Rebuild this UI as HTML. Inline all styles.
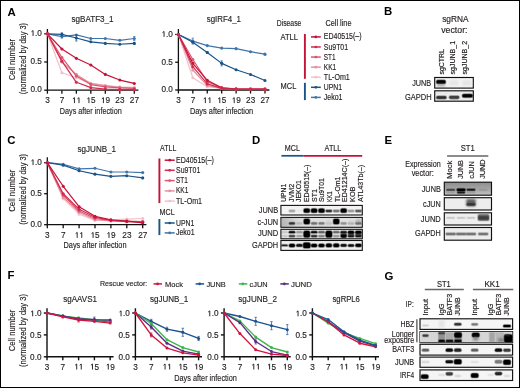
<!DOCTYPE html>
<html><head><meta charset="utf-8"><style>
html,body{margin:0;padding:0;background:#fff;}
body{width:520px;height:388px;overflow:hidden;font-family:"Liberation Sans", sans-serif;}
svg{display:block;will-change:transform;}
</style></head><body>
<svg width="520" height="388" viewBox="0 0 520 388" font-family='"Liberation Sans", sans-serif' fill="#231f20">
<defs><clipPath id="clipL"><rect x="420" y="331.6" width="92.6" height="11"/></clipPath><filter id="b1" x="-50%" y="-80%" width="200%" height="260%"><feGaussianBlur stdDeviation="0.8"/></filter><filter id="b2" x="-50%" y="-80%" width="200%" height="260%"><feGaussianBlur stdDeviation="1.0"/></filter><filter id="b3" x="-50%" y="-80%" width="200%" height="260%"><feGaussianBlur stdDeviation="1.4"/></filter><linearGradient id="gE" x1="0" y1="0" x2="0" y2="1"><stop offset="0" stop-color="#8e8e8e"/><stop offset="0.6" stop-color="#a8a8a8"/><stop offset="1" stop-color="#c4c4c4"/></linearGradient><linearGradient id="gDc" x1="0" y1="0" x2="1" y2="0"><stop offset="0" stop-color="#b8b8b8"/><stop offset="0.25" stop-color="#dcdcdc"/><stop offset="1" stop-color="#e4e4e4"/></linearGradient></defs>
<rect x="0.00" y="0.00" width="520.00" height="388.00" fill="#fff"/>
<text x="7.40" y="15.50" font-size="11.4" font-weight="bold" fill="#000">A</text>
<text x="384.00" y="15.40" font-size="11.4" font-weight="bold" fill="#000">B</text>
<text x="7.30" y="144.00" font-size="11.4" font-weight="bold" fill="#000">C</text>
<text x="252.00" y="144.00" font-size="11.4" font-weight="bold" fill="#000">D</text>
<text x="384.60" y="144.20" font-size="11.4" font-weight="bold" fill="#000">E</text>
<text x="7.60" y="279.30" font-size="11.4" font-weight="bold" fill="#000">F</text>
<text x="384.40" y="279.50" font-size="11.4" font-weight="bold" fill="#000">G</text>
<path d="M47.40 29.10V90.20H138.40" fill="none" stroke="#111" stroke-width="1.3"/>
<line x1="44.20" y1="90.20" x2="47.40" y2="90.20" stroke="#111" stroke-width="1.3"/>
<text x="30.50" y="92.40" font-size="8.2" stroke="#231f20" stroke-width="0.15">0</text><text x="35.06" y="92.40" font-size="8.2" stroke="#231f20" stroke-width="0.15">.</text><text x="37.34" y="92.40" font-size="8.2" stroke="#231f20" stroke-width="0.15">0</text>
<line x1="44.20" y1="62.00" x2="47.40" y2="62.00" stroke="#111" stroke-width="1.3"/>
<text x="30.50" y="64.20" font-size="8.2" stroke="#231f20" stroke-width="0.15">0</text><text x="35.06" y="64.20" font-size="8.2" stroke="#231f20" stroke-width="0.15">.</text><text x="37.34" y="64.20" font-size="8.2" stroke="#231f20" stroke-width="0.15">5</text>
<line x1="44.20" y1="33.80" x2="47.40" y2="33.80" stroke="#111" stroke-width="1.3"/>
<path d="M33.06 36.00V30.56L31.51 31.71" fill="none" stroke="#231f20" stroke-width="0.95" stroke-linejoin="round"/><text x="35.06" y="36.00" font-size="8.2" stroke="#231f20" stroke-width="0.15">.</text><text x="37.34" y="36.00" font-size="8.2" stroke="#231f20" stroke-width="0.15">0</text>
<line x1="47.40" y1="90.20" x2="47.40" y2="93.70" stroke="#111" stroke-width="1.3"/>
<text x="45.22" y="103.10" font-size="8.2" stroke="#231f20" stroke-width="0.15">3</text>
<line x1="61.88" y1="90.20" x2="61.88" y2="93.70" stroke="#111" stroke-width="1.3"/>
<text x="59.70" y="103.10" font-size="8.2" stroke="#231f20" stroke-width="0.15">7</text>
<line x1="76.36" y1="90.20" x2="76.36" y2="93.70" stroke="#111" stroke-width="1.3"/>
<path d="M74.45 103.10V97.66L72.90 98.81" fill="none" stroke="#231f20" stroke-width="0.95" stroke-linejoin="round"/><path d="M79.01 103.10V97.66L77.46 98.81" fill="none" stroke="#231f20" stroke-width="0.95" stroke-linejoin="round"/>
<line x1="90.84" y1="90.20" x2="90.84" y2="93.70" stroke="#111" stroke-width="1.3"/>
<path d="M88.93 103.10V97.66L87.38 98.81" fill="none" stroke="#231f20" stroke-width="0.95" stroke-linejoin="round"/><text x="90.94" y="103.10" font-size="8.2" stroke="#231f20" stroke-width="0.15">5</text>
<line x1="105.32" y1="90.20" x2="105.32" y2="93.70" stroke="#111" stroke-width="1.3"/>
<path d="M103.41 103.10V97.66L101.86 98.81" fill="none" stroke="#231f20" stroke-width="0.95" stroke-linejoin="round"/><text x="105.42" y="103.10" font-size="8.2" stroke="#231f20" stroke-width="0.15">9</text>
<line x1="119.80" y1="90.20" x2="119.80" y2="93.70" stroke="#111" stroke-width="1.3"/>
<text x="115.34" y="103.10" font-size="8.2" stroke="#231f20" stroke-width="0.15">2</text><text x="119.90" y="103.10" font-size="8.2" stroke="#231f20" stroke-width="0.15">3</text>
<line x1="134.28" y1="90.20" x2="134.28" y2="93.70" stroke="#111" stroke-width="1.3"/>
<text x="129.82" y="103.10" font-size="8.2" stroke="#231f20" stroke-width="0.15">2</text><text x="134.38" y="103.10" font-size="8.2" stroke="#231f20" stroke-width="0.15">7</text>
<polyline points="47.40,33.80 61.88,36.62 76.36,34.93 90.84,38.48 105.32,38.48 119.80,40.29 134.28,38.48" fill="none" stroke="#3f75ab" stroke-width="1.2" stroke-linejoin="round"/>
<circle cx="47.40" cy="33.80" r="1.55" fill="#3f75ab"/>
<circle cx="61.88" cy="36.62" r="1.55" fill="#3f75ab"/>
<path d="M61.88 35.12V38.12M60.68 35.12H63.08M60.68 38.12H63.08" stroke="#3f75ab" stroke-width="0.7" fill="none"/>
<circle cx="76.36" cy="34.93" r="1.55" fill="#3f75ab"/>
<circle cx="90.84" cy="38.48" r="1.55" fill="#3f75ab"/>
<circle cx="105.32" cy="38.48" r="1.55" fill="#3f75ab"/>
<circle cx="119.80" cy="40.29" r="1.55" fill="#3f75ab"/>
<circle cx="134.28" cy="38.48" r="1.55" fill="#3f75ab"/>
<path d="M134.28 36.48V40.48M133.08 36.48H135.48M133.08 40.48H135.48" stroke="#3f75ab" stroke-width="0.7" fill="none"/>
<polyline points="47.40,33.80 61.88,34.36 76.36,38.03 90.84,41.81 105.32,43.39 119.80,44.23 134.28,43.39" fill="none" stroke="#1a5389" stroke-width="1.2" stroke-linejoin="round"/>
<circle cx="47.40" cy="33.80" r="1.55" fill="#1a5389"/>
<circle cx="61.88" cy="34.36" r="1.55" fill="#1a5389"/>
<path d="M61.88 32.86V35.86M60.68 32.86H63.08M60.68 35.86H63.08" stroke="#1a5389" stroke-width="0.7" fill="none"/>
<circle cx="76.36" cy="38.03" r="1.55" fill="#1a5389"/>
<path d="M76.36 35.03V41.03M75.16 35.03H77.56M75.16 41.03H77.56" stroke="#1a5389" stroke-width="0.7" fill="none"/>
<circle cx="90.84" cy="41.81" r="1.55" fill="#1a5389"/>
<circle cx="105.32" cy="43.39" r="1.55" fill="#1a5389"/>
<circle cx="119.80" cy="44.23" r="1.55" fill="#1a5389"/>
<circle cx="134.28" cy="43.39" r="1.55" fill="#1a5389"/>
<path d="M134.28 42.39V44.39M133.08 42.39H135.48M133.08 44.39H135.48" stroke="#1a5389" stroke-width="0.7" fill="none"/>
<polyline points="47.40,33.80 61.88,72.72 76.36,77.79 90.84,83.43 105.32,85.69 119.80,86.82 134.28,87.38" fill="none" stroke="#f2c2cb" stroke-width="1.2" stroke-linejoin="round"/>
<circle cx="47.40" cy="33.80" r="1.55" fill="#f2c2cb"/>
<circle cx="61.88" cy="72.72" r="1.55" fill="#f2c2cb"/>
<circle cx="76.36" cy="77.79" r="1.55" fill="#f2c2cb"/>
<circle cx="90.84" cy="83.43" r="1.55" fill="#f2c2cb"/>
<circle cx="105.32" cy="85.69" r="1.55" fill="#f2c2cb"/>
<circle cx="119.80" cy="86.82" r="1.55" fill="#f2c2cb"/>
<circle cx="134.28" cy="87.38" r="1.55" fill="#f2c2cb"/>
<polyline points="47.40,33.80 61.88,62.00 76.36,74.41 90.84,83.43 105.32,85.69 119.80,87.38 134.28,87.94" fill="none" stroke="#e88fa0" stroke-width="1.2" stroke-linejoin="round"/>
<circle cx="47.40" cy="33.80" r="1.55" fill="#e88fa0"/>
<circle cx="61.88" cy="62.00" r="1.55" fill="#e88fa0"/>
<circle cx="76.36" cy="74.41" r="1.55" fill="#e88fa0"/>
<circle cx="90.84" cy="83.43" r="1.55" fill="#e88fa0"/>
<circle cx="105.32" cy="85.69" r="1.55" fill="#e88fa0"/>
<circle cx="119.80" cy="87.38" r="1.55" fill="#e88fa0"/>
<circle cx="134.28" cy="87.94" r="1.55" fill="#e88fa0"/>
<polyline points="47.40,33.80 61.88,57.49 76.36,76.10 90.84,84.56 105.32,86.82 119.80,87.94 134.28,88.51" fill="none" stroke="#dc5670" stroke-width="1.2" stroke-linejoin="round"/>
<circle cx="47.40" cy="33.80" r="1.55" fill="#dc5670"/>
<circle cx="61.88" cy="57.49" r="1.55" fill="#dc5670"/>
<circle cx="76.36" cy="76.10" r="1.55" fill="#dc5670"/>
<circle cx="90.84" cy="84.56" r="1.55" fill="#dc5670"/>
<circle cx="105.32" cy="86.82" r="1.55" fill="#dc5670"/>
<circle cx="119.80" cy="87.94" r="1.55" fill="#dc5670"/>
<circle cx="134.28" cy="88.51" r="1.55" fill="#dc5670"/>
<polyline points="47.40,33.80 61.88,49.03 76.36,58.33 90.84,65.05 105.32,74.41 119.80,80.05 134.28,83.43" fill="none" stroke="#c61237" stroke-width="1.2" stroke-linejoin="round"/>
<circle cx="47.40" cy="33.80" r="1.55" fill="#c61237"/>
<circle cx="61.88" cy="49.03" r="1.55" fill="#c61237"/>
<circle cx="76.36" cy="58.33" r="1.55" fill="#c61237"/>
<circle cx="90.84" cy="65.05" r="1.55" fill="#c61237"/>
<circle cx="105.32" cy="74.41" r="1.55" fill="#c61237"/>
<circle cx="119.80" cy="80.05" r="1.55" fill="#c61237"/>
<circle cx="134.28" cy="83.43" r="1.55" fill="#c61237"/>
<polyline points="47.40,33.80 61.88,61.15 76.36,82.30 90.84,87.66 105.32,89.07 119.80,89.64 134.28,89.64" fill="none" stroke="#d22b4c" stroke-width="1.2" stroke-linejoin="round"/>
<circle cx="47.40" cy="33.80" r="1.55" fill="#d22b4c"/>
<circle cx="61.88" cy="61.15" r="1.55" fill="#d22b4c"/>
<circle cx="76.36" cy="82.30" r="1.55" fill="#d22b4c"/>
<circle cx="90.84" cy="87.66" r="1.55" fill="#d22b4c"/>
<circle cx="105.32" cy="89.07" r="1.55" fill="#d22b4c"/>
<circle cx="119.80" cy="89.64" r="1.55" fill="#d22b4c"/>
<circle cx="134.28" cy="89.64" r="1.55" fill="#d22b4c"/>
<text x="71.50" y="22.40" font-size="8.4" stroke="#231f20" stroke-width="0.15" textLength="42.10" lengthAdjust="spacingAndGlyphs">sgBATF3_1</text>
<text x="59.80" y="114.00" font-size="9.4" stroke="#231f20" stroke-width="0.15" textLength="61.90" lengthAdjust="spacingAndGlyphs">Days after infection</text>
<text transform="translate(15.10,80.20) rotate(-90)" x="0.00" font-size="9.4" stroke="#231f20" stroke-width="0.15" textLength="41.20" lengthAdjust="spacingAndGlyphs">Cell number</text>
<text transform="translate(25.90,94.30) rotate(-90)" x="0.00" font-size="9.4" stroke="#231f20" stroke-width="0.15" textLength="71.40" lengthAdjust="spacingAndGlyphs">(normalized by day 3)</text>
<path d="M178.40 29.10V90.00H269.40" fill="none" stroke="#111" stroke-width="1.3"/>
<line x1="175.20" y1="90.00" x2="178.40" y2="90.00" stroke="#111" stroke-width="1.3"/>
<text x="161.50" y="92.40" font-size="8.2" stroke="#231f20" stroke-width="0.15">0</text><text x="166.06" y="92.40" font-size="8.2" stroke="#231f20" stroke-width="0.15">.</text><text x="168.34" y="92.40" font-size="8.2" stroke="#231f20" stroke-width="0.15">0</text>
<line x1="175.20" y1="62.25" x2="178.40" y2="62.25" stroke="#111" stroke-width="1.3"/>
<text x="161.50" y="64.65" font-size="8.2" stroke="#231f20" stroke-width="0.15">0</text><text x="166.06" y="64.65" font-size="8.2" stroke="#231f20" stroke-width="0.15">.</text><text x="168.34" y="64.65" font-size="8.2" stroke="#231f20" stroke-width="0.15">5</text>
<line x1="175.20" y1="34.50" x2="178.40" y2="34.50" stroke="#111" stroke-width="1.3"/>
<path d="M164.06 36.90V31.46L162.51 32.61" fill="none" stroke="#231f20" stroke-width="0.95" stroke-linejoin="round"/><text x="166.06" y="36.90" font-size="8.2" stroke="#231f20" stroke-width="0.15">.</text><text x="168.34" y="36.90" font-size="8.2" stroke="#231f20" stroke-width="0.15">0</text>
<line x1="178.40" y1="90.00" x2="178.40" y2="93.50" stroke="#111" stroke-width="1.3"/>
<text x="176.22" y="103.10" font-size="8.2" stroke="#231f20" stroke-width="0.15">3</text>
<line x1="192.83" y1="90.00" x2="192.83" y2="93.50" stroke="#111" stroke-width="1.3"/>
<text x="190.65" y="103.10" font-size="8.2" stroke="#231f20" stroke-width="0.15">7</text>
<line x1="207.26" y1="90.00" x2="207.26" y2="93.50" stroke="#111" stroke-width="1.3"/>
<path d="M205.35 103.10V97.66L203.80 98.81" fill="none" stroke="#231f20" stroke-width="0.95" stroke-linejoin="round"/><path d="M209.91 103.10V97.66L208.36 98.81" fill="none" stroke="#231f20" stroke-width="0.95" stroke-linejoin="round"/>
<line x1="221.69" y1="90.00" x2="221.69" y2="93.50" stroke="#111" stroke-width="1.3"/>
<path d="M219.78 103.10V97.66L218.23 98.81" fill="none" stroke="#231f20" stroke-width="0.95" stroke-linejoin="round"/><text x="221.79" y="103.10" font-size="8.2" stroke="#231f20" stroke-width="0.15">5</text>
<line x1="236.12" y1="90.00" x2="236.12" y2="93.50" stroke="#111" stroke-width="1.3"/>
<path d="M234.21 103.10V97.66L232.66 98.81" fill="none" stroke="#231f20" stroke-width="0.95" stroke-linejoin="round"/><text x="236.22" y="103.10" font-size="8.2" stroke="#231f20" stroke-width="0.15">9</text>
<line x1="250.55" y1="90.00" x2="250.55" y2="93.50" stroke="#111" stroke-width="1.3"/>
<text x="246.09" y="103.10" font-size="8.2" stroke="#231f20" stroke-width="0.15">2</text><text x="250.65" y="103.10" font-size="8.2" stroke="#231f20" stroke-width="0.15">3</text>
<line x1="264.98" y1="90.00" x2="264.98" y2="93.50" stroke="#111" stroke-width="1.3"/>
<text x="260.52" y="103.10" font-size="8.2" stroke="#231f20" stroke-width="0.15">2</text><text x="265.08" y="103.10" font-size="8.2" stroke="#231f20" stroke-width="0.15">7</text>
<polyline points="178.40,34.50 192.83,41.16 207.26,45.60 221.69,48.10 236.12,48.65 250.55,51.71 264.98,54.20" fill="none" stroke="#3f75ab" stroke-width="1.2" stroke-linejoin="round"/>
<circle cx="178.40" cy="34.50" r="1.55" fill="#3f75ab"/>
<circle cx="192.83" cy="41.16" r="1.55" fill="#3f75ab"/>
<path d="M192.83 38.16V44.16M191.63 38.16H194.03M191.63 44.16H194.03" stroke="#3f75ab" stroke-width="0.7" fill="none"/>
<circle cx="207.26" cy="45.60" r="1.55" fill="#3f75ab"/>
<circle cx="221.69" cy="48.10" r="1.55" fill="#3f75ab"/>
<circle cx="236.12" cy="48.65" r="1.55" fill="#3f75ab"/>
<circle cx="250.55" cy="51.71" r="1.55" fill="#3f75ab"/>
<circle cx="264.98" cy="54.20" r="1.55" fill="#3f75ab"/>
<path d="M264.98 53.20V55.20M263.78 53.20H266.18M263.78 55.20H266.18" stroke="#3f75ab" stroke-width="0.7" fill="none"/>
<polyline points="178.40,34.50 192.83,42.27 207.26,52.54 221.69,63.36 236.12,69.74 250.55,74.46 264.98,80.56" fill="none" stroke="#1a5389" stroke-width="1.2" stroke-linejoin="round"/>
<circle cx="178.40" cy="34.50" r="1.55" fill="#1a5389"/>
<circle cx="192.83" cy="42.27" r="1.55" fill="#1a5389"/>
<circle cx="207.26" cy="52.54" r="1.55" fill="#1a5389"/>
<path d="M207.26 51.54V53.54M206.06 51.54H208.46M206.06 53.54H208.46" stroke="#1a5389" stroke-width="0.7" fill="none"/>
<circle cx="221.69" cy="63.36" r="1.55" fill="#1a5389"/>
<path d="M221.69 60.86V65.86M220.49 60.86H222.89M220.49 65.86H222.89" stroke="#1a5389" stroke-width="0.7" fill="none"/>
<circle cx="236.12" cy="69.74" r="1.55" fill="#1a5389"/>
<circle cx="250.55" cy="74.46" r="1.55" fill="#1a5389"/>
<circle cx="264.98" cy="80.56" r="1.55" fill="#1a5389"/>
<polyline points="178.40,34.50 192.83,77.79 207.26,86.67 221.69,88.33 236.12,88.89 250.55,88.89 264.98,88.89" fill="none" stroke="#f2c2cb" stroke-width="1.2" stroke-linejoin="round"/>
<circle cx="178.40" cy="34.50" r="1.55" fill="#f2c2cb"/>
<circle cx="192.83" cy="77.79" r="1.55" fill="#f2c2cb"/>
<circle cx="207.26" cy="86.67" r="1.55" fill="#f2c2cb"/>
<circle cx="221.69" cy="88.33" r="1.55" fill="#f2c2cb"/>
<circle cx="236.12" cy="88.89" r="1.55" fill="#f2c2cb"/>
<circle cx="250.55" cy="88.89" r="1.55" fill="#f2c2cb"/>
<circle cx="264.98" cy="88.89" r="1.55" fill="#f2c2cb"/>
<polyline points="178.40,34.50 192.83,70.02 207.26,85.56 221.69,88.33 236.12,88.89 250.55,88.89 264.98,88.89" fill="none" stroke="#e88fa0" stroke-width="1.2" stroke-linejoin="round"/>
<circle cx="178.40" cy="34.50" r="1.55" fill="#e88fa0"/>
<circle cx="192.83" cy="70.02" r="1.55" fill="#e88fa0"/>
<circle cx="207.26" cy="85.56" r="1.55" fill="#e88fa0"/>
<circle cx="221.69" cy="88.33" r="1.55" fill="#e88fa0"/>
<circle cx="236.12" cy="88.89" r="1.55" fill="#e88fa0"/>
<circle cx="250.55" cy="88.89" r="1.55" fill="#e88fa0"/>
<circle cx="264.98" cy="88.89" r="1.55" fill="#e88fa0"/>
<polyline points="178.40,34.50 192.83,59.47 207.26,81.67 221.69,87.78 236.12,88.89 250.55,88.89 264.98,88.89" fill="none" stroke="#dc5670" stroke-width="1.2" stroke-linejoin="round"/>
<circle cx="178.40" cy="34.50" r="1.55" fill="#dc5670"/>
<circle cx="192.83" cy="59.47" r="1.55" fill="#dc5670"/>
<circle cx="207.26" cy="81.67" r="1.55" fill="#dc5670"/>
<circle cx="221.69" cy="87.78" r="1.55" fill="#dc5670"/>
<circle cx="236.12" cy="88.89" r="1.55" fill="#dc5670"/>
<circle cx="250.55" cy="88.89" r="1.55" fill="#dc5670"/>
<circle cx="264.98" cy="88.89" r="1.55" fill="#dc5670"/>
<polyline points="178.40,34.50 192.83,63.36 207.26,80.29 221.69,87.78 236.12,89.17 250.55,89.44 264.98,89.44" fill="none" stroke="#c61237" stroke-width="1.2" stroke-linejoin="round"/>
<circle cx="178.40" cy="34.50" r="1.55" fill="#c61237"/>
<circle cx="192.83" cy="63.36" r="1.55" fill="#c61237"/>
<circle cx="207.26" cy="80.29" r="1.55" fill="#c61237"/>
<circle cx="221.69" cy="87.78" r="1.55" fill="#c61237"/>
<circle cx="236.12" cy="89.17" r="1.55" fill="#c61237"/>
<circle cx="250.55" cy="89.44" r="1.55" fill="#c61237"/>
<circle cx="264.98" cy="89.44" r="1.55" fill="#c61237"/>
<polyline points="178.40,34.50 192.83,66.69 207.26,83.89 221.69,88.33 236.12,89.44 250.55,89.44 264.98,89.44" fill="none" stroke="#d22b4c" stroke-width="1.2" stroke-linejoin="round"/>
<circle cx="178.40" cy="34.50" r="1.55" fill="#d22b4c"/>
<circle cx="192.83" cy="66.69" r="1.55" fill="#d22b4c"/>
<circle cx="207.26" cy="83.89" r="1.55" fill="#d22b4c"/>
<circle cx="221.69" cy="88.33" r="1.55" fill="#d22b4c"/>
<circle cx="236.12" cy="89.44" r="1.55" fill="#d22b4c"/>
<circle cx="250.55" cy="89.44" r="1.55" fill="#d22b4c"/>
<circle cx="264.98" cy="89.44" r="1.55" fill="#d22b4c"/>
<text x="206.70" y="22.40" font-size="8.4" stroke="#231f20" stroke-width="0.15" textLength="34.30" lengthAdjust="spacingAndGlyphs">sgIRF4_1</text>
<text x="189.90" y="114.00" font-size="9.4" stroke="#231f20" stroke-width="0.15" textLength="63.30" lengthAdjust="spacingAndGlyphs">Days after infection</text>
<text x="276.70" y="26.10" font-size="8.4" stroke="#231f20" stroke-width="0.15" textLength="24.70" lengthAdjust="spacingAndGlyphs">Disease</text>
<text x="325.40" y="25.80" font-size="8.4" stroke="#231f20" stroke-width="0.15" textLength="26.10" lengthAdjust="spacingAndGlyphs">Cell line</text>
<text x="280.40" y="39.90" font-size="8.4" stroke="#231f20" stroke-width="0.15" textLength="17.60" lengthAdjust="spacingAndGlyphs">ATLL</text>
<text x="280.60" y="88.60" font-size="8.4" stroke="#231f20" stroke-width="0.15" textLength="15.70" lengthAdjust="spacingAndGlyphs">MCL</text>
<line x1="304.90" y1="34.00" x2="304.90" y2="78.80" stroke="#c61237" stroke-width="1.9"/>
<line x1="304.90" y1="82.80" x2="304.90" y2="100.10" stroke="#1a5389" stroke-width="1.9"/>
<line x1="311.00" y1="36.90" x2="320.80" y2="36.90" stroke="#c61237" stroke-width="1.5"/>
<circle cx="315.8" cy="36.90" r="1.35" fill="#c61237"/>
<text x="323.80" y="39.45" font-size="8.4" stroke="#231f20" stroke-width="0.15" textLength="37.80" lengthAdjust="spacingAndGlyphs">ED40515(–)</text>
<line x1="311.00" y1="46.98" x2="320.80" y2="46.98" stroke="#d22b4c" stroke-width="1.5"/>
<circle cx="315.8" cy="46.98" r="1.35" fill="#d22b4c"/>
<text x="323.80" y="49.53" font-size="8.4" stroke="#231f20" stroke-width="0.15" textLength="24.30" lengthAdjust="spacingAndGlyphs">Su9T01</text>
<line x1="311.00" y1="57.06" x2="320.80" y2="57.06" stroke="#dc5670" stroke-width="1.5"/>
<circle cx="315.8" cy="57.06" r="1.35" fill="#dc5670"/>
<text x="323.80" y="59.61" font-size="8.4" stroke="#231f20" stroke-width="0.15" textLength="11.80" lengthAdjust="spacingAndGlyphs">ST1</text>
<line x1="311.00" y1="67.14" x2="320.80" y2="67.14" stroke="#e88fa0" stroke-width="1.5"/>
<circle cx="315.8" cy="67.14" r="1.35" fill="#e88fa0"/>
<text x="323.80" y="69.69" font-size="8.4" stroke="#231f20" stroke-width="0.15" textLength="12.40" lengthAdjust="spacingAndGlyphs">KK1</text>
<line x1="311.00" y1="77.22" x2="320.80" y2="77.22" stroke="#f2c2cb" stroke-width="1.5"/>
<circle cx="315.8" cy="77.22" r="1.35" fill="#f2c2cb"/>
<text x="323.80" y="79.77" font-size="8.4" stroke="#231f20" stroke-width="0.15" textLength="26.00" lengthAdjust="spacingAndGlyphs">TL-Om1</text>
<line x1="311.00" y1="87.30" x2="320.80" y2="87.30" stroke="#1a5389" stroke-width="1.5"/>
<circle cx="315.8" cy="87.30" r="1.35" fill="#1a5389"/>
<text x="323.80" y="89.85" font-size="8.4" stroke="#231f20" stroke-width="0.15" textLength="18.30" lengthAdjust="spacingAndGlyphs">UPN1</text>
<line x1="311.00" y1="97.38" x2="320.80" y2="97.38" stroke="#3f75ab" stroke-width="1.5"/>
<circle cx="315.8" cy="97.38" r="1.35" fill="#3f75ab"/>
<text x="323.80" y="99.93" font-size="8.4" stroke="#231f20" stroke-width="0.15" textLength="18.60" lengthAdjust="spacingAndGlyphs">Jeko1</text>
<text x="442.20" y="22.00" font-size="8.6" stroke="#231f20" stroke-width="0.15" textLength="26.40" lengthAdjust="spacingAndGlyphs">sgRNA</text>
<text x="441.20" y="32.60" font-size="8.6" stroke="#231f20" stroke-width="0.15" textLength="26.30" lengthAdjust="spacingAndGlyphs">vector:</text>
<text transform="translate(443.90,74.50) rotate(-90)" x="0.00" font-size="7.8" stroke="#231f20" stroke-width="0.2" textLength="25.50" lengthAdjust="spacingAndGlyphs">sgCTRL</text>
<text transform="translate(455.10,74.50) rotate(-90)" x="0.00" font-size="7.8" stroke="#231f20" stroke-width="0.2" textLength="33.60" lengthAdjust="spacingAndGlyphs">sgJUNB_1</text>
<text transform="translate(467.40,74.50) rotate(-90)" x="0.00" font-size="7.8" stroke="#231f20" stroke-width="0.2" textLength="33.60" lengthAdjust="spacingAndGlyphs">sgJUNB_2</text>
<text x="412.20" y="85.50" font-size="8.3" stroke="#231f20" stroke-width="0.15" textLength="19.00" lengthAdjust="spacingAndGlyphs">JUNB</text>
<text x="405.00" y="100.00" font-size="8.3" stroke="#231f20" stroke-width="0.15" textLength="26.70" lengthAdjust="spacingAndGlyphs">GAPDH</text>
<rect x="434.70" y="77.50" width="38.60" height="10.60" fill="#f4f4f4" stroke="#111" stroke-width="1.15"/>
<g fill="#000" opacity="1"><rect x="435.50" y="79.30" width="11.00" height="5.20" rx="2.50" opacity="0.25"/><rect x="436.00" y="79.80" width="10.00" height="4.20" rx="2.00" opacity="0.45"/><rect x="436.50" y="80.30" width="9.00" height="3.20" rx="1.50" opacity="1.0"/></g>
<rect x="436.50" y="83.50" width="9.00" height="3.00" rx="1.50" fill="#555" opacity="0.45" filter="url(#b2)"/>
<rect x="449.25" y="80.00" width="9.50" height="6.00" rx="1.50" fill="#ddd" opacity="0.6" filter="url(#b2)"/>
<rect x="462.25" y="80.00" width="9.50" height="6.00" rx="1.50" fill="#ddd" opacity="0.6" filter="url(#b2)"/>
<rect x="434.70" y="90.80" width="38.60" height="10.40" fill="#eaeaea" stroke="#111" stroke-width="1.15"/>
<g fill="#1a1a1a" opacity="0.9"><rect x="435.60" y="95.15" width="11.60" height="4.70" rx="2.35" opacity="0.25"/><rect x="436.10" y="95.65" width="10.60" height="3.70" rx="1.85" opacity="0.45"/><rect x="436.60" y="96.15" width="9.60" height="2.70" rx="1.35" opacity="1.0"/></g>
<g fill="#222" opacity="0.85"><rect x="448.40" y="94.95" width="11.60" height="4.70" rx="2.35" opacity="0.25"/><rect x="448.90" y="95.45" width="10.60" height="3.70" rx="1.85" opacity="0.45"/><rect x="449.40" y="95.95" width="9.60" height="2.70" rx="1.35" opacity="1.0"/></g>
<g fill="#000" opacity="1"><rect x="461.40" y="93.30" width="12.00" height="5.00" rx="2.50" opacity="0.25"/><rect x="461.90" y="93.80" width="11.00" height="4.00" rx="2.00" opacity="0.45"/><rect x="462.40" y="94.30" width="10.00" height="3.00" rx="1.50" opacity="1.0"/></g>
<path d="M47.30 157.30V224.70H146.40" fill="none" stroke="#111" stroke-width="1.3"/>
<line x1="44.10" y1="224.70" x2="47.30" y2="224.70" stroke="#111" stroke-width="1.3"/>
<text x="30.50" y="227.10" font-size="8.2" stroke="#231f20" stroke-width="0.15">0</text><text x="35.06" y="227.10" font-size="8.2" stroke="#231f20" stroke-width="0.15">.</text><text x="37.34" y="227.10" font-size="8.2" stroke="#231f20" stroke-width="0.15">0</text>
<line x1="44.10" y1="193.70" x2="47.30" y2="193.70" stroke="#111" stroke-width="1.3"/>
<text x="30.50" y="196.10" font-size="8.2" stroke="#231f20" stroke-width="0.15">0</text><text x="35.06" y="196.10" font-size="8.2" stroke="#231f20" stroke-width="0.15">.</text><text x="37.34" y="196.10" font-size="8.2" stroke="#231f20" stroke-width="0.15">5</text>
<line x1="44.10" y1="162.70" x2="47.30" y2="162.70" stroke="#111" stroke-width="1.3"/>
<path d="M33.06 165.10V159.66L31.51 160.81" fill="none" stroke="#231f20" stroke-width="0.95" stroke-linejoin="round"/><text x="35.06" y="165.10" font-size="8.2" stroke="#231f20" stroke-width="0.15">.</text><text x="37.34" y="165.10" font-size="8.2" stroke="#231f20" stroke-width="0.15">0</text>
<line x1="47.30" y1="224.70" x2="47.30" y2="228.20" stroke="#111" stroke-width="1.3"/>
<text x="45.12" y="237.90" font-size="8.2" stroke="#231f20" stroke-width="0.15">3</text>
<line x1="63.20" y1="224.70" x2="63.20" y2="228.20" stroke="#111" stroke-width="1.3"/>
<text x="61.02" y="237.90" font-size="8.2" stroke="#231f20" stroke-width="0.15">7</text>
<line x1="79.10" y1="224.70" x2="79.10" y2="228.20" stroke="#111" stroke-width="1.3"/>
<path d="M77.19 237.90V232.46L75.64 233.61" fill="none" stroke="#231f20" stroke-width="0.95" stroke-linejoin="round"/><path d="M81.75 237.90V232.46L80.20 233.61" fill="none" stroke="#231f20" stroke-width="0.95" stroke-linejoin="round"/>
<line x1="95.00" y1="224.70" x2="95.00" y2="228.20" stroke="#111" stroke-width="1.3"/>
<path d="M93.09 237.90V232.46L91.54 233.61" fill="none" stroke="#231f20" stroke-width="0.95" stroke-linejoin="round"/><text x="95.10" y="237.90" font-size="8.2" stroke="#231f20" stroke-width="0.15">5</text>
<line x1="110.90" y1="224.70" x2="110.90" y2="228.20" stroke="#111" stroke-width="1.3"/>
<path d="M108.99 237.90V232.46L107.44 233.61" fill="none" stroke="#231f20" stroke-width="0.95" stroke-linejoin="round"/><text x="111.00" y="237.90" font-size="8.2" stroke="#231f20" stroke-width="0.15">9</text>
<line x1="126.80" y1="224.70" x2="126.80" y2="228.20" stroke="#111" stroke-width="1.3"/>
<text x="122.34" y="237.90" font-size="8.2" stroke="#231f20" stroke-width="0.15">2</text><text x="126.90" y="237.90" font-size="8.2" stroke="#231f20" stroke-width="0.15">3</text>
<line x1="142.70" y1="224.70" x2="142.70" y2="228.20" stroke="#111" stroke-width="1.3"/>
<text x="138.24" y="237.90" font-size="8.2" stroke="#231f20" stroke-width="0.15">2</text><text x="142.80" y="237.90" font-size="8.2" stroke="#231f20" stroke-width="0.15">7</text>
<polyline points="47.30,162.70 63.20,164.25 79.10,168.90 95.00,168.28 110.90,172.00 126.80,172.00 142.70,172.62" fill="none" stroke="#3f75ab" stroke-width="1.2" stroke-linejoin="round"/>
<circle cx="47.30" cy="162.70" r="1.55" fill="#3f75ab"/>
<circle cx="63.20" cy="164.25" r="1.55" fill="#3f75ab"/>
<circle cx="79.10" cy="168.90" r="1.55" fill="#3f75ab"/>
<circle cx="95.00" cy="168.28" r="1.55" fill="#3f75ab"/>
<circle cx="110.90" cy="172.00" r="1.55" fill="#3f75ab"/>
<circle cx="126.80" cy="172.00" r="1.55" fill="#3f75ab"/>
<circle cx="142.70" cy="172.62" r="1.55" fill="#3f75ab"/>
<polyline points="47.30,162.70 63.20,165.18 79.10,170.76 95.00,174.17 110.90,176.34 126.80,175.72 142.70,177.89" fill="none" stroke="#1a5389" stroke-width="1.2" stroke-linejoin="round"/>
<circle cx="47.30" cy="162.70" r="1.55" fill="#1a5389"/>
<circle cx="63.20" cy="165.18" r="1.55" fill="#1a5389"/>
<circle cx="79.10" cy="170.76" r="1.55" fill="#1a5389"/>
<circle cx="95.00" cy="174.17" r="1.55" fill="#1a5389"/>
<circle cx="110.90" cy="176.34" r="1.55" fill="#1a5389"/>
<circle cx="126.80" cy="175.72" r="1.55" fill="#1a5389"/>
<circle cx="142.70" cy="177.89" r="1.55" fill="#1a5389"/>
<polyline points="47.30,162.70 63.20,198.66 79.10,214.16 95.00,220.36 110.90,219.74 126.80,219.12 142.70,218.50" fill="none" stroke="#f2c2cb" stroke-width="1.2" stroke-linejoin="round"/>
<circle cx="47.30" cy="162.70" r="1.55" fill="#f2c2cb"/>
<circle cx="63.20" cy="198.66" r="1.55" fill="#f2c2cb"/>
<circle cx="79.10" cy="214.16" r="1.55" fill="#f2c2cb"/>
<circle cx="95.00" cy="220.36" r="1.55" fill="#f2c2cb"/>
<circle cx="110.90" cy="219.74" r="1.55" fill="#f2c2cb"/>
<circle cx="126.80" cy="219.12" r="1.55" fill="#f2c2cb"/>
<circle cx="142.70" cy="218.50" r="1.55" fill="#f2c2cb"/>
<polyline points="47.30,162.70 63.20,197.42 79.10,212.30 95.00,219.74 110.90,220.98 126.80,221.60 142.70,221.60" fill="none" stroke="#e88fa0" stroke-width="1.2" stroke-linejoin="round"/>
<circle cx="47.30" cy="162.70" r="1.55" fill="#e88fa0"/>
<circle cx="63.20" cy="197.42" r="1.55" fill="#e88fa0"/>
<circle cx="79.10" cy="212.30" r="1.55" fill="#e88fa0"/>
<circle cx="95.00" cy="219.74" r="1.55" fill="#e88fa0"/>
<circle cx="110.90" cy="220.98" r="1.55" fill="#e88fa0"/>
<circle cx="126.80" cy="221.60" r="1.55" fill="#e88fa0"/>
<circle cx="142.70" cy="221.60" r="1.55" fill="#e88fa0"/>
<polyline points="47.30,162.70 63.20,195.25 79.10,211.06 95.00,218.50 110.90,220.36 126.80,220.98 142.70,221.60" fill="none" stroke="#dc5670" stroke-width="1.2" stroke-linejoin="round"/>
<circle cx="47.30" cy="162.70" r="1.55" fill="#dc5670"/>
<circle cx="63.20" cy="195.25" r="1.55" fill="#dc5670"/>
<circle cx="79.10" cy="211.06" r="1.55" fill="#dc5670"/>
<circle cx="95.00" cy="218.50" r="1.55" fill="#dc5670"/>
<circle cx="110.90" cy="220.36" r="1.55" fill="#dc5670"/>
<circle cx="126.80" cy="220.98" r="1.55" fill="#dc5670"/>
<circle cx="142.70" cy="221.60" r="1.55" fill="#dc5670"/>
<polyline points="47.30,162.70 63.20,193.70 79.10,209.20 95.00,217.26 110.90,220.36 126.80,221.60 142.70,222.22" fill="none" stroke="#d22b4c" stroke-width="1.2" stroke-linejoin="round"/>
<circle cx="47.30" cy="162.70" r="1.55" fill="#d22b4c"/>
<circle cx="63.20" cy="193.70" r="1.55" fill="#d22b4c"/>
<circle cx="79.10" cy="209.20" r="1.55" fill="#d22b4c"/>
<circle cx="95.00" cy="217.26" r="1.55" fill="#d22b4c"/>
<circle cx="110.90" cy="220.36" r="1.55" fill="#d22b4c"/>
<circle cx="126.80" cy="221.60" r="1.55" fill="#d22b4c"/>
<circle cx="142.70" cy="222.22" r="1.55" fill="#d22b4c"/>
<polyline points="47.30,162.70 63.20,186.26 79.10,206.72 95.00,216.33 110.90,219.74 126.80,220.98 142.70,222.84" fill="none" stroke="#c61237" stroke-width="1.2" stroke-linejoin="round"/>
<circle cx="47.30" cy="162.70" r="1.55" fill="#c61237"/>
<circle cx="63.20" cy="186.26" r="1.55" fill="#c61237"/>
<circle cx="79.10" cy="206.72" r="1.55" fill="#c61237"/>
<circle cx="95.00" cy="216.33" r="1.55" fill="#c61237"/>
<circle cx="110.90" cy="219.74" r="1.55" fill="#c61237"/>
<circle cx="126.80" cy="220.98" r="1.55" fill="#c61237"/>
<circle cx="142.70" cy="222.84" r="1.55" fill="#c61237"/>
<text x="77.50" y="152.10" font-size="8.4" stroke="#231f20" stroke-width="0.15" textLength="38.60" lengthAdjust="spacingAndGlyphs">sgJUNB_1</text>
<text x="63.50" y="248.20" font-size="9.4" stroke="#231f20" stroke-width="0.15" textLength="63.00" lengthAdjust="spacingAndGlyphs">Days after infection</text>
<text transform="translate(15.10,211.80) rotate(-90)" x="0.00" font-size="9.4" stroke="#231f20" stroke-width="0.15" textLength="42.20" lengthAdjust="spacingAndGlyphs">Cell number</text>
<text transform="translate(25.90,224.80) rotate(-90)" x="0.00" font-size="9.4" stroke="#231f20" stroke-width="0.15" textLength="70.80" lengthAdjust="spacingAndGlyphs">(normalized by day 3)</text>
<text x="160.00" y="151.10" font-size="8.4" stroke="#231f20" stroke-width="0.15" textLength="16.30" lengthAdjust="spacingAndGlyphs">ATLL</text>
<text x="159.60" y="215.00" font-size="8.4" stroke="#231f20" stroke-width="0.15" textLength="15.10" lengthAdjust="spacingAndGlyphs">MCL</text>
<line x1="159.40" y1="158.50" x2="159.40" y2="203.10" stroke="#c61237" stroke-width="1.9"/>
<line x1="159.40" y1="219.00" x2="159.40" y2="235.10" stroke="#1a5389" stroke-width="1.9"/>
<line x1="164.70" y1="160.20" x2="174.70" y2="160.20" stroke="#c61237" stroke-width="1.5"/>
<circle cx="169.7" cy="160.20" r="1.35" fill="#c61237"/>
<text x="176.00" y="162.75" font-size="8.4" stroke="#231f20" stroke-width="0.15" textLength="37.80" lengthAdjust="spacingAndGlyphs">ED40515(–)</text>
<line x1="164.70" y1="170.30" x2="174.70" y2="170.30" stroke="#d22b4c" stroke-width="1.5"/>
<circle cx="169.7" cy="170.30" r="1.35" fill="#d22b4c"/>
<text x="176.00" y="172.85" font-size="8.4" stroke="#231f20" stroke-width="0.15" textLength="24.30" lengthAdjust="spacingAndGlyphs">Su9T01</text>
<line x1="164.70" y1="180.60" x2="174.70" y2="180.60" stroke="#dc5670" stroke-width="1.5"/>
<circle cx="169.7" cy="180.60" r="1.35" fill="#dc5670"/>
<text x="176.00" y="183.15" font-size="8.4" stroke="#231f20" stroke-width="0.15" textLength="11.80" lengthAdjust="spacingAndGlyphs">ST1</text>
<line x1="164.70" y1="190.90" x2="174.70" y2="190.90" stroke="#e88fa0" stroke-width="1.5"/>
<circle cx="169.7" cy="190.90" r="1.35" fill="#e88fa0"/>
<text x="176.00" y="193.45" font-size="8.4" stroke="#231f20" stroke-width="0.15" textLength="12.40" lengthAdjust="spacingAndGlyphs">KK1</text>
<line x1="164.70" y1="201.10" x2="174.70" y2="201.10" stroke="#f2c2cb" stroke-width="1.5"/>
<circle cx="169.7" cy="201.10" r="1.35" fill="#f2c2cb"/>
<text x="176.00" y="203.65" font-size="8.4" stroke="#231f20" stroke-width="0.15" textLength="26.00" lengthAdjust="spacingAndGlyphs">TL-Om1</text>
<line x1="164.70" y1="223.00" x2="174.70" y2="223.00" stroke="#1a5389" stroke-width="1.5"/>
<circle cx="169.7" cy="223.00" r="1.35" fill="#1a5389"/>
<text x="176.00" y="225.55" font-size="8.4" stroke="#231f20" stroke-width="0.15" textLength="18.30" lengthAdjust="spacingAndGlyphs">UPN1</text>
<line x1="164.70" y1="232.90" x2="174.70" y2="232.90" stroke="#3f75ab" stroke-width="1.5"/>
<circle cx="169.7" cy="232.90" r="1.35" fill="#3f75ab"/>
<text x="176.00" y="235.45" font-size="8.4" stroke="#231f20" stroke-width="0.15" textLength="18.60" lengthAdjust="spacingAndGlyphs">Jeko1</text>
<text x="284.80" y="150.60" font-size="8.4" stroke="#231f20" stroke-width="0.15" textLength="15.10" lengthAdjust="spacingAndGlyphs">MCL</text>
<text x="324.60" y="150.60" font-size="8.4" stroke="#231f20" stroke-width="0.15" textLength="16.80" lengthAdjust="spacingAndGlyphs">ATLL</text>
<line x1="281.40" y1="155.80" x2="303.70" y2="155.80" stroke="#1a5389" stroke-width="1.7"/>
<line x1="303.70" y1="155.80" x2="362.20" y2="155.80" stroke="#c61237" stroke-width="1.7"/>
<text transform="translate(286.00,202.00) rotate(-90)" x="0.00" font-size="7.9" stroke="#231f20" stroke-width="0.2" textLength="18.20" lengthAdjust="spacingAndGlyphs">UPN1</text>
<text transform="translate(293.66,202.00) rotate(-90)" x="0.00" font-size="7.9" stroke="#231f20" stroke-width="0.2" textLength="18.20" lengthAdjust="spacingAndGlyphs">JVM2</text>
<text transform="translate(301.32,202.00) rotate(-90)" x="0.00" font-size="7.9" stroke="#231f20" stroke-width="0.2" textLength="21.90" lengthAdjust="spacingAndGlyphs">JEKO1</text>
<text transform="translate(308.98,202.00) rotate(-90)" x="0.00" font-size="7.9" stroke="#231f20" stroke-width="0.2" textLength="37.30" lengthAdjust="spacingAndGlyphs">ED40515(–)</text>
<text transform="translate(316.64,202.00) rotate(-90)" x="0.00" font-size="7.9" stroke="#231f20" stroke-width="0.2" textLength="12.90" lengthAdjust="spacingAndGlyphs">ST1</text>
<text transform="translate(324.30,202.00) rotate(-90)" x="0.00" font-size="7.9" stroke="#231f20" stroke-width="0.2" textLength="23.80" lengthAdjust="spacingAndGlyphs">Su9T01</text>
<text transform="translate(331.96,202.00) rotate(-90)" x="0.00" font-size="7.9" stroke="#231f20" stroke-width="0.2" textLength="10.50" lengthAdjust="spacingAndGlyphs">KK1</text>
<text transform="translate(339.62,202.00) rotate(-90)" x="0.00" font-size="7.9" stroke="#231f20" stroke-width="0.2" textLength="25.40" lengthAdjust="spacingAndGlyphs">TL-Om1</text>
<text transform="translate(347.28,202.00) rotate(-90)" x="0.00" font-size="7.9" stroke="#231f20" stroke-width="0.2" textLength="43.30" lengthAdjust="spacingAndGlyphs">ED41214C(–)</text>
<text transform="translate(354.94,202.00) rotate(-90)" x="0.00" font-size="7.9" stroke="#231f20" stroke-width="0.2" textLength="15.50" lengthAdjust="spacingAndGlyphs">KOB</text>
<text transform="translate(362.60,202.00) rotate(-90)" x="0.00" font-size="7.9" stroke="#231f20" stroke-width="0.2" textLength="37.10" lengthAdjust="spacingAndGlyphs">ATL43Tb(–)</text>
<text x="258.80" y="213.10" font-size="8.3" stroke="#231f20" stroke-width="0.15" textLength="19.40" lengthAdjust="spacingAndGlyphs">JUNB</text>
<text x="257.60" y="225.00" font-size="8.3" stroke="#231f20" stroke-width="0.15" textLength="20.60" lengthAdjust="spacingAndGlyphs">c-JUN</text>
<text x="258.00" y="236.40" font-size="8.3" stroke="#231f20" stroke-width="0.15" textLength="20.20" lengthAdjust="spacingAndGlyphs">JUND</text>
<text x="252.00" y="248.20" font-size="8.3" stroke="#231f20" stroke-width="0.15" textLength="26.20" lengthAdjust="spacingAndGlyphs">GAPDH</text>
<rect x="280.90" y="205.40" width="81.40" height="9.60" fill="#f3f3f3" stroke="#111" stroke-width="1.1"/>
<rect x="280.90" y="217.40" width="81.40" height="9.90" fill="url(#gDc)" stroke="#111" stroke-width="1.1"/>
<rect x="280.90" y="229.30" width="81.40" height="9.50" fill="#ececec" stroke="#111" stroke-width="1.1"/>
<rect x="280.90" y="240.50" width="81.40" height="9.90" fill="#efefef" stroke="#111" stroke-width="1.1"/>
<g fill="#000" opacity="0.3"><rect x="288.08" y="209.10" width="7.80" height="3.80" rx="1.90" opacity="0.25"/><rect x="288.58" y="209.60" width="6.80" height="2.80" rx="1.40" opacity="0.45"/><rect x="289.08" y="210.10" width="5.80" height="1.80" rx="0.90" opacity="1.0"/></g>
<g fill="#000" opacity="0.03"><rect x="295.46" y="209.10" width="7.80" height="3.80" rx="1.90" opacity="0.25"/><rect x="295.96" y="209.60" width="6.80" height="2.80" rx="1.40" opacity="0.45"/><rect x="296.46" y="210.10" width="5.80" height="1.80" rx="0.90" opacity="1.0"/></g>
<g fill="#000" opacity="1"><rect x="302.84" y="207.80" width="7.80" height="5.60" rx="2.50" opacity="0.25"/><rect x="303.34" y="208.30" width="6.80" height="4.60" rx="2.00" opacity="0.45"/><rect x="303.84" y="208.80" width="5.80" height="3.60" rx="1.50" opacity="1.0"/></g>
<g fill="#000" opacity="1"><rect x="310.22" y="207.80" width="7.80" height="5.60" rx="2.50" opacity="0.25"/><rect x="310.72" y="208.30" width="6.80" height="4.60" rx="2.00" opacity="0.45"/><rect x="311.22" y="208.80" width="5.80" height="3.60" rx="1.50" opacity="1.0"/></g>
<g fill="#000" opacity="1"><rect x="317.60" y="207.80" width="7.80" height="5.60" rx="2.50" opacity="0.25"/><rect x="318.10" y="208.30" width="6.80" height="4.60" rx="2.00" opacity="0.45"/><rect x="318.60" y="208.80" width="5.80" height="3.60" rx="1.50" opacity="1.0"/></g>
<g fill="#000" opacity="0.8"><rect x="324.98" y="209.10" width="7.80" height="3.80" rx="1.90" opacity="0.25"/><rect x="325.48" y="209.60" width="6.80" height="2.80" rx="1.40" opacity="0.45"/><rect x="325.98" y="210.10" width="5.80" height="1.80" rx="0.90" opacity="1.0"/></g>
<g fill="#000" opacity="0.5"><rect x="332.36" y="209.10" width="7.80" height="3.80" rx="1.90" opacity="0.25"/><rect x="332.86" y="209.60" width="6.80" height="2.80" rx="1.40" opacity="0.45"/><rect x="333.36" y="210.10" width="5.80" height="1.80" rx="0.90" opacity="1.0"/></g>
<g fill="#000" opacity="1"><rect x="339.74" y="207.80" width="7.80" height="5.60" rx="2.50" opacity="0.25"/><rect x="340.24" y="208.30" width="6.80" height="4.60" rx="2.00" opacity="0.45"/><rect x="340.74" y="208.80" width="5.80" height="3.60" rx="1.50" opacity="1.0"/></g>
<g fill="#000" opacity="0.35"><rect x="347.12" y="209.10" width="7.80" height="3.80" rx="1.90" opacity="0.25"/><rect x="347.62" y="209.60" width="6.80" height="2.80" rx="1.40" opacity="0.45"/><rect x="348.12" y="210.10" width="5.80" height="1.80" rx="0.90" opacity="1.0"/></g>
<g fill="#000" opacity="0.6"><rect x="354.50" y="209.10" width="7.80" height="3.80" rx="1.90" opacity="0.25"/><rect x="355.00" y="209.60" width="6.80" height="2.80" rx="1.40" opacity="0.45"/><rect x="355.50" y="210.10" width="5.80" height="1.80" rx="0.90" opacity="1.0"/></g>
<g fill="#000" opacity="0.03"><rect x="280.90" y="221.60" width="7.40" height="3.60" rx="1.80" opacity="0.25"/><rect x="281.40" y="222.10" width="6.40" height="2.60" rx="1.30" opacity="0.45"/><rect x="281.90" y="222.60" width="5.40" height="1.60" rx="0.80" opacity="1.0"/></g>
<g fill="#000" opacity="0.75"><rect x="288.28" y="221.60" width="7.40" height="3.60" rx="1.80" opacity="0.25"/><rect x="288.78" y="222.10" width="6.40" height="2.60" rx="1.30" opacity="0.45"/><rect x="289.28" y="222.60" width="5.40" height="1.60" rx="0.80" opacity="1.0"/></g>
<g fill="#000" opacity="0.15"><rect x="295.66" y="221.60" width="7.40" height="3.60" rx="1.80" opacity="0.25"/><rect x="296.16" y="222.10" width="6.40" height="2.60" rx="1.30" opacity="0.45"/><rect x="296.66" y="222.60" width="5.40" height="1.60" rx="0.80" opacity="1.0"/></g>
<g fill="#000" opacity="1"><rect x="302.94" y="217.90" width="7.60" height="7.00" rx="2.50" opacity="0.25"/><rect x="303.44" y="218.40" width="6.60" height="6.00" rx="2.00" opacity="0.45"/><rect x="303.94" y="218.90" width="5.60" height="5.00" rx="1.50" opacity="1.0"/></g>
<g fill="#000" opacity="0.5"><rect x="310.42" y="221.60" width="7.40" height="3.60" rx="1.80" opacity="0.25"/><rect x="310.92" y="222.10" width="6.40" height="2.60" rx="1.30" opacity="0.45"/><rect x="311.42" y="222.60" width="5.40" height="1.60" rx="0.80" opacity="1.0"/></g>
<g fill="#000" opacity="0.45"><rect x="317.80" y="221.60" width="7.40" height="3.60" rx="1.80" opacity="0.25"/><rect x="318.30" y="222.10" width="6.40" height="2.60" rx="1.30" opacity="0.45"/><rect x="318.80" y="222.60" width="5.40" height="1.60" rx="0.80" opacity="1.0"/></g>
<g fill="#000" opacity="0.15"><rect x="325.18" y="221.60" width="7.40" height="3.60" rx="1.80" opacity="0.25"/><rect x="325.68" y="222.10" width="6.40" height="2.60" rx="1.30" opacity="0.45"/><rect x="326.18" y="222.60" width="5.40" height="1.60" rx="0.80" opacity="1.0"/></g>
<g fill="#000" opacity="1"><rect x="332.46" y="217.90" width="7.60" height="7.00" rx="2.50" opacity="0.25"/><rect x="332.96" y="218.40" width="6.60" height="6.00" rx="2.00" opacity="0.45"/><rect x="333.46" y="218.90" width="5.60" height="5.00" rx="1.50" opacity="1.0"/></g>
<g fill="#000" opacity="0.35"><rect x="339.94" y="221.60" width="7.40" height="3.60" rx="1.80" opacity="0.25"/><rect x="340.44" y="222.10" width="6.40" height="2.60" rx="1.30" opacity="0.45"/><rect x="340.94" y="222.60" width="5.40" height="1.60" rx="0.80" opacity="1.0"/></g>
<g fill="#000" opacity="0.25"><rect x="347.32" y="221.60" width="7.40" height="3.60" rx="1.80" opacity="0.25"/><rect x="347.82" y="222.10" width="6.40" height="2.60" rx="1.30" opacity="0.45"/><rect x="348.32" y="222.60" width="5.40" height="1.60" rx="0.80" opacity="1.0"/></g>
<g fill="#000" opacity="0.55"><rect x="354.70" y="221.60" width="7.40" height="3.60" rx="1.80" opacity="0.25"/><rect x="355.20" y="222.10" width="6.40" height="2.60" rx="1.30" opacity="0.45"/><rect x="355.70" y="222.60" width="5.40" height="1.60" rx="0.80" opacity="1.0"/></g>
<rect x="281.10" y="218.80" width="5.00" height="7.00" rx="1.50" fill="#bbb" opacity="0.5" filter="url(#b2)"/>
<rect x="326.13" y="218.80" width="5.50" height="7.00" rx="1.50" fill="#ccc" opacity="0.5" filter="url(#b2)"/>
<rect x="348.27" y="219.00" width="5.50" height="5.00" rx="1.50" fill="#ccc" opacity="0.5" filter="url(#b2)"/>
<rect x="355.40" y="219.00" width="6.00" height="5.00" rx="1.50" fill="#888" opacity="0.5" filter="url(#b2)"/>
<g fill="#000" opacity="0.15"><rect x="280.70" y="230.30" width="7.80" height="3.80" rx="1.90" opacity="0.25"/><rect x="281.20" y="230.80" width="6.80" height="2.80" rx="1.40" opacity="0.45"/><rect x="281.70" y="231.30" width="5.80" height="1.80" rx="0.90" opacity="1.0"/></g>
<g fill="#000" opacity="0.15"><rect x="280.70" y="234.20" width="7.80" height="3.80" rx="1.90" opacity="0.25"/><rect x="281.20" y="234.70" width="6.80" height="2.80" rx="1.40" opacity="0.45"/><rect x="281.70" y="235.20" width="5.80" height="1.80" rx="0.90" opacity="1.0"/></g>
<g fill="#000" opacity="0.95"><rect x="288.08" y="230.30" width="7.80" height="3.80" rx="1.90" opacity="0.25"/><rect x="288.58" y="230.80" width="6.80" height="2.80" rx="1.40" opacity="0.45"/><rect x="289.08" y="231.30" width="5.80" height="1.80" rx="0.90" opacity="1.0"/></g>
<g fill="#000" opacity="0.7"><rect x="288.08" y="234.20" width="7.80" height="3.80" rx="1.90" opacity="0.25"/><rect x="288.58" y="234.70" width="6.80" height="2.80" rx="1.40" opacity="0.45"/><rect x="289.08" y="235.20" width="5.80" height="1.80" rx="0.90" opacity="1.0"/></g>
<g fill="#000" opacity="0.35"><rect x="295.46" y="230.30" width="7.80" height="3.80" rx="1.90" opacity="0.25"/><rect x="295.96" y="230.80" width="6.80" height="2.80" rx="1.40" opacity="0.45"/><rect x="296.46" y="231.30" width="5.80" height="1.80" rx="0.90" opacity="1.0"/></g>
<g fill="#000" opacity="0.3"><rect x="295.46" y="234.20" width="7.80" height="3.80" rx="1.90" opacity="0.25"/><rect x="295.96" y="234.70" width="6.80" height="2.80" rx="1.40" opacity="0.45"/><rect x="296.46" y="235.20" width="5.80" height="1.80" rx="0.90" opacity="1.0"/></g>
<g fill="#000" opacity="1"><rect x="302.74" y="230.10" width="8.00" height="8.20" rx="2.50" opacity="0.25"/><rect x="303.24" y="230.60" width="7.00" height="7.20" rx="2.00" opacity="0.45"/><rect x="303.74" y="231.10" width="6.00" height="6.20" rx="1.50" opacity="1.0"/></g>
<g fill="#000" opacity="0.95"><rect x="310.22" y="230.30" width="7.80" height="3.80" rx="1.90" opacity="0.25"/><rect x="310.72" y="230.80" width="6.80" height="2.80" rx="1.40" opacity="0.45"/><rect x="311.22" y="231.30" width="5.80" height="1.80" rx="0.90" opacity="1.0"/></g>
<g fill="#000" opacity="0.8"><rect x="310.22" y="234.20" width="7.80" height="3.80" rx="1.90" opacity="0.25"/><rect x="310.72" y="234.70" width="6.80" height="2.80" rx="1.40" opacity="0.45"/><rect x="311.22" y="235.20" width="5.80" height="1.80" rx="0.90" opacity="1.0"/></g>
<g fill="#000" opacity="0.6"><rect x="317.60" y="230.30" width="7.80" height="3.80" rx="1.90" opacity="0.25"/><rect x="318.10" y="230.80" width="6.80" height="2.80" rx="1.40" opacity="0.45"/><rect x="318.60" y="231.30" width="5.80" height="1.80" rx="0.90" opacity="1.0"/></g>
<g fill="#000" opacity="0.45"><rect x="317.60" y="234.20" width="7.80" height="3.80" rx="1.90" opacity="0.25"/><rect x="318.10" y="234.70" width="6.80" height="2.80" rx="1.40" opacity="0.45"/><rect x="318.60" y="235.20" width="5.80" height="1.80" rx="0.90" opacity="1.0"/></g>
<g fill="#000" opacity="1"><rect x="324.88" y="230.10" width="8.00" height="8.20" rx="2.50" opacity="0.25"/><rect x="325.38" y="230.60" width="7.00" height="7.20" rx="2.00" opacity="0.45"/><rect x="325.88" y="231.10" width="6.00" height="6.20" rx="1.50" opacity="1.0"/></g>
<g fill="#000" opacity="0.55"><rect x="332.36" y="230.30" width="7.80" height="3.80" rx="1.90" opacity="0.25"/><rect x="332.86" y="230.80" width="6.80" height="2.80" rx="1.40" opacity="0.45"/><rect x="333.36" y="231.30" width="5.80" height="1.80" rx="0.90" opacity="1.0"/></g>
<g fill="#000" opacity="0.35"><rect x="332.36" y="234.20" width="7.80" height="3.80" rx="1.90" opacity="0.25"/><rect x="332.86" y="234.70" width="6.80" height="2.80" rx="1.40" opacity="0.45"/><rect x="333.36" y="235.20" width="5.80" height="1.80" rx="0.90" opacity="1.0"/></g>
<g fill="#000" opacity="0.9"><rect x="339.74" y="230.30" width="7.80" height="3.80" rx="1.90" opacity="0.25"/><rect x="340.24" y="230.80" width="6.80" height="2.80" rx="1.40" opacity="0.45"/><rect x="340.74" y="231.30" width="5.80" height="1.80" rx="0.90" opacity="1.0"/></g>
<g fill="#000" opacity="1"><rect x="339.74" y="233.80" width="7.80" height="4.60" rx="2.30" opacity="0.25"/><rect x="340.24" y="234.30" width="6.80" height="3.60" rx="1.80" opacity="0.45"/><rect x="340.74" y="234.80" width="5.80" height="2.60" rx="1.30" opacity="1.0"/></g>
<g fill="#000" opacity="0.6"><rect x="339.94" y="232.50" width="7.40" height="3.40" rx="1.70" opacity="0.25"/><rect x="340.44" y="233.00" width="6.40" height="2.40" rx="1.20" opacity="0.45"/><rect x="340.94" y="233.50" width="5.40" height="1.40" rx="0.70" opacity="1.0"/></g>
<g fill="#000" opacity="1"><rect x="347.12" y="229.90" width="7.80" height="4.60" rx="2.30" opacity="0.25"/><rect x="347.62" y="230.40" width="6.80" height="3.60" rx="1.80" opacity="0.45"/><rect x="348.12" y="230.90" width="5.80" height="2.60" rx="1.30" opacity="1.0"/></g>
<g fill="#000" opacity="0.9"><rect x="347.12" y="234.20" width="7.80" height="3.80" rx="1.90" opacity="0.25"/><rect x="347.62" y="234.70" width="6.80" height="2.80" rx="1.40" opacity="0.45"/><rect x="348.12" y="235.20" width="5.80" height="1.80" rx="0.90" opacity="1.0"/></g>
<g fill="#000" opacity="0.6"><rect x="347.32" y="232.50" width="7.40" height="3.40" rx="1.70" opacity="0.25"/><rect x="347.82" y="233.00" width="6.40" height="2.40" rx="1.20" opacity="0.45"/><rect x="348.32" y="233.50" width="5.40" height="1.40" rx="0.70" opacity="1.0"/></g>
<g fill="#000" opacity="1"><rect x="354.50" y="229.90" width="7.80" height="4.60" rx="2.30" opacity="0.25"/><rect x="355.00" y="230.40" width="6.80" height="3.60" rx="1.80" opacity="0.45"/><rect x="355.50" y="230.90" width="5.80" height="2.60" rx="1.30" opacity="1.0"/></g>
<g fill="#000" opacity="0.9"><rect x="354.50" y="234.20" width="7.80" height="3.80" rx="1.90" opacity="0.25"/><rect x="355.00" y="234.70" width="6.80" height="2.80" rx="1.40" opacity="0.45"/><rect x="355.50" y="235.20" width="5.80" height="1.80" rx="0.90" opacity="1.0"/></g>
<g fill="#000" opacity="0.6"><rect x="354.70" y="232.50" width="7.40" height="3.40" rx="1.70" opacity="0.25"/><rect x="355.20" y="233.00" width="6.40" height="2.40" rx="1.20" opacity="0.45"/><rect x="355.70" y="233.50" width="5.40" height="1.40" rx="0.70" opacity="1.0"/></g>
<g fill="#000" opacity="0.85"><rect x="280.80" y="243.70" width="7.60" height="3.40" rx="1.70" opacity="0.25"/><rect x="281.30" y="244.20" width="6.60" height="2.40" rx="1.20" opacity="0.45"/><rect x="281.80" y="244.70" width="5.60" height="1.40" rx="0.70" opacity="1.0"/></g>
<g fill="#000" opacity="1"><rect x="288.18" y="242.90" width="7.60" height="5.00" rx="2.50" opacity="0.25"/><rect x="288.68" y="243.40" width="6.60" height="4.00" rx="2.00" opacity="0.45"/><rect x="289.18" y="243.90" width="5.60" height="3.00" rx="1.50" opacity="1.0"/></g>
<g fill="#000" opacity="0.95"><rect x="295.56" y="243.20" width="7.60" height="4.40" rx="2.20" opacity="0.25"/><rect x="296.06" y="243.70" width="6.60" height="3.40" rx="1.70" opacity="0.45"/><rect x="296.56" y="244.20" width="5.60" height="2.40" rx="1.20" opacity="1.0"/></g>
<g fill="#000" opacity="1"><rect x="302.34" y="241.70" width="8.80" height="7.40" rx="2.50" opacity="0.25"/><rect x="302.84" y="242.20" width="7.80" height="6.40" rx="2.00" opacity="0.45"/><rect x="303.34" y="242.70" width="6.80" height="5.40" rx="1.50" opacity="1.0"/></g>
<g fill="#000" opacity="1"><rect x="310.32" y="242.90" width="7.60" height="5.00" rx="2.50" opacity="0.25"/><rect x="310.82" y="243.40" width="6.60" height="4.00" rx="2.00" opacity="0.45"/><rect x="311.32" y="243.90" width="5.60" height="3.00" rx="1.50" opacity="1.0"/></g>
<g fill="#000" opacity="1"><rect x="317.70" y="242.90" width="7.60" height="5.00" rx="2.50" opacity="0.25"/><rect x="318.20" y="243.40" width="6.60" height="4.00" rx="2.00" opacity="0.45"/><rect x="318.70" y="243.90" width="5.60" height="3.00" rx="1.50" opacity="1.0"/></g>
<g fill="#000" opacity="1"><rect x="325.08" y="242.80" width="7.60" height="5.20" rx="2.50" opacity="0.25"/><rect x="325.58" y="243.30" width="6.60" height="4.20" rx="2.00" opacity="0.45"/><rect x="326.08" y="243.80" width="5.60" height="3.20" rx="1.50" opacity="1.0"/></g>
<g fill="#000" opacity="1"><rect x="332.46" y="242.80" width="7.60" height="5.20" rx="2.50" opacity="0.25"/><rect x="332.96" y="243.30" width="6.60" height="4.20" rx="2.00" opacity="0.45"/><rect x="333.46" y="243.80" width="5.60" height="3.20" rx="1.50" opacity="1.0"/></g>
<g fill="#000" opacity="0.95"><rect x="339.84" y="243.30" width="7.60" height="4.20" rx="2.10" opacity="0.25"/><rect x="340.34" y="243.80" width="6.60" height="3.20" rx="1.60" opacity="0.45"/><rect x="340.84" y="244.30" width="5.60" height="2.20" rx="1.10" opacity="1.0"/></g>
<g fill="#000" opacity="0.95"><rect x="347.22" y="243.40" width="7.60" height="4.00" rx="2.00" opacity="0.25"/><rect x="347.72" y="243.90" width="6.60" height="3.00" rx="1.50" opacity="0.45"/><rect x="348.22" y="244.40" width="5.60" height="2.00" rx="1.00" opacity="1.0"/></g>
<g fill="#000" opacity="1"><rect x="354.60" y="243.10" width="7.60" height="4.60" rx="2.30" opacity="0.25"/><rect x="355.10" y="243.60" width="6.60" height="3.60" rx="1.80" opacity="0.45"/><rect x="355.60" y="244.10" width="5.60" height="2.60" rx="1.30" opacity="1.0"/></g>
<text x="460.70" y="151.00" font-size="8.4" stroke="#231f20" stroke-width="0.15" textLength="14.00" lengthAdjust="spacingAndGlyphs">ST1</text>
<line x1="447.10" y1="156.10" x2="488.30" y2="156.10" stroke="#666" stroke-width="1.5"/>
<text x="405.20" y="166.70" font-size="8.2" stroke="#231f20" stroke-width="0.15" textLength="35.50" lengthAdjust="spacingAndGlyphs">Expression</text>
<text x="411.70" y="175.80" font-size="8.2" stroke="#231f20" stroke-width="0.15" textLength="22.00" lengthAdjust="spacingAndGlyphs">vector:</text>
<text transform="translate(451.60,178.80) rotate(-90)" x="0.00" font-size="7.9" stroke="#231f20" stroke-width="0.2" textLength="18.00" lengthAdjust="spacingAndGlyphs">Mock</text>
<text transform="translate(463.00,178.80) rotate(-90)" x="0.00" font-size="7.9" stroke="#231f20" stroke-width="0.2" textLength="18.70" lengthAdjust="spacingAndGlyphs">JUNB</text>
<text transform="translate(474.20,178.80) rotate(-90)" x="0.00" font-size="7.9" stroke="#231f20" stroke-width="0.2" textLength="17.50" lengthAdjust="spacingAndGlyphs">cJUN</text>
<text transform="translate(485.20,178.80) rotate(-90)" x="0.00" font-size="7.9" stroke="#231f20" stroke-width="0.2" textLength="19.40" lengthAdjust="spacingAndGlyphs">JUND</text>
<text x="421.70" y="191.60" font-size="8.4" stroke="#231f20" stroke-width="0.15" textLength="19.10" lengthAdjust="spacingAndGlyphs">JUNB</text>
<text x="423.00" y="206.60" font-size="8.4" stroke="#231f20" stroke-width="0.15" textLength="17.80" lengthAdjust="spacingAndGlyphs">cJUN</text>
<text x="420.80" y="221.60" font-size="8.4" stroke="#231f20" stroke-width="0.15" textLength="20.00" lengthAdjust="spacingAndGlyphs">JUND</text>
<text x="415.00" y="236.00" font-size="8.4" stroke="#231f20" stroke-width="0.15" textLength="25.80" lengthAdjust="spacingAndGlyphs">GAPDH</text>
<rect x="444.30" y="182.20" width="47.20" height="13.00" fill="url(#gE)" stroke="#111" stroke-width="1.15"/>
<rect x="444.30" y="197.70" width="47.20" height="12.30" fill="#ededed" stroke="#111" stroke-width="1.15"/>
<rect x="444.30" y="212.80" width="47.20" height="12.20" fill="#eeeeee" stroke="#111" stroke-width="1.15"/>
<rect x="444.30" y="227.50" width="47.20" height="12.70" fill="#ececec" stroke="#111" stroke-width="1.15"/>
<g fill="#222" opacity="0.8"><rect x="445.75" y="188.30" width="9.90" height="3.20" rx="1.60" opacity="0.25"/><rect x="446.25" y="188.80" width="8.90" height="2.20" rx="1.10" opacity="0.45"/><rect x="446.75" y="189.30" width="7.90" height="1.20" rx="0.60" opacity="1.0"/></g>
<g fill="#000" opacity="1"><rect x="455.90" y="187.70" width="10.40" height="4.20" rx="2.10" opacity="0.25"/><rect x="456.40" y="188.20" width="9.40" height="3.20" rx="1.60" opacity="0.45"/><rect x="456.90" y="188.70" width="8.40" height="2.20" rx="1.10" opacity="1.0"/></g>
<g fill="#000" opacity="0.85"><rect x="466.05" y="188.10" width="9.90" height="3.40" rx="1.70" opacity="0.25"/><rect x="466.55" y="188.60" width="8.90" height="2.40" rx="1.20" opacity="0.45"/><rect x="467.05" y="189.10" width="7.90" height="1.40" rx="0.70" opacity="1.0"/></g>
<g fill="#555" opacity="0.25"><rect x="478.50" y="188.50" width="9.40" height="2.80" rx="1.40" opacity="0.25"/><rect x="479.00" y="189.00" width="8.40" height="1.80" rx="0.90" opacity="0.45"/><rect x="479.50" y="189.50" width="7.40" height="0.80" rx="0.40" opacity="1.0"/></g>
<g fill="#000" opacity="0.85"><rect x="456.40" y="191.00" width="9.40" height="3.20" rx="1.60" opacity="0.25"/><rect x="456.90" y="191.50" width="8.40" height="2.20" rx="1.10" opacity="0.45"/><rect x="457.40" y="192.00" width="7.40" height="1.20" rx="0.60" opacity="1.0"/></g>
<g fill="#444" opacity="0.3"><rect x="446.00" y="191.40" width="9.40" height="2.40" rx="1.20" opacity="0.25"/><rect x="446.50" y="191.90" width="8.40" height="1.40" rx="0.70" opacity="0.45"/><rect x="447.00" y="192.40" width="7.40" height="0.40" rx="0.20" opacity="1.0"/></g>
<g fill="#444" opacity="0.3"><rect x="466.30" y="191.40" width="9.40" height="2.40" rx="1.20" opacity="0.25"/><rect x="466.80" y="191.90" width="8.40" height="1.40" rx="0.70" opacity="0.45"/><rect x="467.30" y="192.40" width="7.40" height="0.40" rx="0.20" opacity="1.0"/></g>
<rect x="466.20" y="198.90" width="9.60" height="7.40" rx="1.50" fill="#4a4a4a" opacity="0.85" filter="url(#b2)"/>
<g fill="#111" opacity="0.6"><rect x="465.80" y="202.40" width="10.40" height="4.00" rx="2.00" opacity="0.25"/><rect x="466.30" y="202.90" width="9.40" height="3.00" rx="1.50" opacity="0.45"/><rect x="466.80" y="203.40" width="8.40" height="2.00" rx="1.00" opacity="1.0"/></g>
<g fill="#555" opacity="0.85"><rect x="477.05" y="213.40" width="12.90" height="8.00" rx="2.50" opacity="0.25"/><rect x="477.55" y="213.90" width="11.90" height="7.00" rx="2.00" opacity="0.45"/><rect x="478.05" y="214.40" width="10.90" height="6.00" rx="1.50" opacity="1.0"/></g>
<g fill="#222" opacity="0.6"><rect x="477.55" y="215.40" width="11.90" height="4.80" rx="2.40" opacity="0.25"/><rect x="478.05" y="215.90" width="10.90" height="3.80" rx="1.90" opacity="0.45"/><rect x="478.55" y="216.40" width="9.90" height="2.80" rx="1.40" opacity="1.0"/></g>
<g fill="#888" opacity="0.45"><rect x="446.00" y="216.50" width="9.40" height="2.80" rx="1.40" opacity="0.25"/><rect x="446.50" y="217.00" width="8.40" height="1.80" rx="0.90" opacity="0.45"/><rect x="447.00" y="217.50" width="7.40" height="0.80" rx="0.40" opacity="1.0"/></g>
<g fill="#888" opacity="0.45"><rect x="456.40" y="216.50" width="9.40" height="2.80" rx="1.40" opacity="0.25"/><rect x="456.90" y="217.00" width="8.40" height="1.80" rx="0.90" opacity="0.45"/><rect x="457.40" y="217.50" width="7.40" height="0.80" rx="0.40" opacity="1.0"/></g>
<g fill="#888" opacity="0.45"><rect x="466.30" y="216.50" width="9.40" height="2.80" rx="1.40" opacity="0.25"/><rect x="466.80" y="217.00" width="8.40" height="1.80" rx="0.90" opacity="0.45"/><rect x="467.30" y="217.50" width="7.40" height="0.80" rx="0.40" opacity="1.0"/></g>
<g fill="#444" opacity="0.7"><rect x="445.00" y="232.10" width="11.40" height="3.80" rx="1.90" opacity="0.25"/><rect x="445.50" y="232.60" width="10.40" height="2.80" rx="1.40" opacity="0.45"/><rect x="446.00" y="233.10" width="9.40" height="1.80" rx="0.90" opacity="1.0"/></g>
<g fill="#444" opacity="0.7"><rect x="455.40" y="232.10" width="11.40" height="3.80" rx="1.90" opacity="0.25"/><rect x="455.90" y="232.60" width="10.40" height="2.80" rx="1.40" opacity="0.45"/><rect x="456.40" y="233.10" width="9.40" height="1.80" rx="0.90" opacity="1.0"/></g>
<g fill="#444" opacity="0.7"><rect x="465.30" y="232.10" width="11.40" height="3.80" rx="1.90" opacity="0.25"/><rect x="465.80" y="232.60" width="10.40" height="2.80" rx="1.40" opacity="0.45"/><rect x="466.30" y="233.10" width="9.40" height="1.80" rx="0.90" opacity="1.0"/></g>
<g fill="#444" opacity="0.7"><rect x="477.50" y="232.10" width="11.40" height="3.80" rx="1.90" opacity="0.25"/><rect x="478.00" y="232.60" width="10.40" height="2.80" rx="1.40" opacity="0.45"/><rect x="478.50" y="233.10" width="9.40" height="1.80" rx="0.90" opacity="1.0"/></g>
<text x="100.00" y="286.20" font-size="7.6" stroke="#231f20" stroke-width="0.15" textLength="47.30" lengthAdjust="spacingAndGlyphs">Rescue vector:</text>
<line x1="153.50" y1="283.90" x2="162.00" y2="283.90" stroke="#d3143e" stroke-width="1.5"/>
<circle cx="157.55" cy="283.9" r="1.35" fill="#d3143e"/>
<text x="165.00" y="286.70" font-size="7.8" stroke="#231f20" stroke-width="0.15" textLength="17.90" lengthAdjust="spacingAndGlyphs">Mock</text>
<line x1="195.60" y1="283.90" x2="204.10" y2="283.90" stroke="#1b5391" stroke-width="1.5"/>
<circle cx="199.65" cy="283.9" r="1.35" fill="#1b5391"/>
<text x="206.40" y="286.70" font-size="7.8" stroke="#231f20" stroke-width="0.15" textLength="19.40" lengthAdjust="spacingAndGlyphs">JUNB</text>
<line x1="238.80" y1="283.90" x2="247.30" y2="283.90" stroke="#3cb648" stroke-width="1.5"/>
<circle cx="242.85" cy="283.9" r="1.35" fill="#3cb648"/>
<text x="249.50" y="286.70" font-size="7.8" stroke="#231f20" stroke-width="0.15" textLength="18.10" lengthAdjust="spacingAndGlyphs">cJUN</text>
<line x1="280.30" y1="283.90" x2="288.80" y2="283.90" stroke="#5b2c83" stroke-width="1.5"/>
<circle cx="284.35" cy="283.9" r="1.35" fill="#5b2c83"/>
<text x="291.00" y="286.70" font-size="7.8" stroke="#231f20" stroke-width="0.15" textLength="21.00" lengthAdjust="spacingAndGlyphs">JUND</text>
<path d="M47.00 308.20V356.80H113.60" fill="none" stroke="#111" stroke-width="1.4"/>
<line x1="43.80" y1="356.80" x2="47.00" y2="356.80" stroke="#111" stroke-width="1.4"/>
<text x="30.10" y="360.10" font-size="8.2" stroke="#231f20" stroke-width="0.15">0</text><text x="34.66" y="360.10" font-size="8.2" stroke="#231f20" stroke-width="0.15">.</text><text x="36.94" y="360.10" font-size="8.2" stroke="#231f20" stroke-width="0.15">0</text>
<line x1="43.80" y1="334.90" x2="47.00" y2="334.90" stroke="#111" stroke-width="1.4"/>
<text x="30.10" y="338.20" font-size="8.2" stroke="#231f20" stroke-width="0.15">0</text><text x="34.66" y="338.20" font-size="8.2" stroke="#231f20" stroke-width="0.15">.</text><text x="36.94" y="338.20" font-size="8.2" stroke="#231f20" stroke-width="0.15">5</text>
<line x1="43.80" y1="313.00" x2="47.00" y2="313.00" stroke="#111" stroke-width="1.4"/>
<path d="M32.66 316.30V310.86L31.11 312.01" fill="none" stroke="#231f20" stroke-width="0.95" stroke-linejoin="round"/><text x="34.66" y="316.30" font-size="8.2" stroke="#231f20" stroke-width="0.15">.</text><text x="36.94" y="316.30" font-size="8.2" stroke="#231f20" stroke-width="0.15">0</text>
<line x1="47.00" y1="356.80" x2="47.00" y2="360.30" stroke="#111" stroke-width="1.4"/>
<text x="44.82" y="369.50" font-size="8.2" stroke="#231f20" stroke-width="0.15">3</text>
<line x1="62.80" y1="356.80" x2="62.80" y2="360.30" stroke="#111" stroke-width="1.4"/>
<text x="60.62" y="369.50" font-size="8.2" stroke="#231f20" stroke-width="0.15">7</text>
<line x1="78.60" y1="356.80" x2="78.60" y2="360.30" stroke="#111" stroke-width="1.4"/>
<path d="M76.69 369.50V364.06L75.14 365.21" fill="none" stroke="#231f20" stroke-width="0.95" stroke-linejoin="round"/><path d="M81.25 369.50V364.06L79.70 365.21" fill="none" stroke="#231f20" stroke-width="0.95" stroke-linejoin="round"/>
<line x1="94.40" y1="356.80" x2="94.40" y2="360.30" stroke="#111" stroke-width="1.4"/>
<path d="M92.49 369.50V364.06L90.94 365.21" fill="none" stroke="#231f20" stroke-width="0.95" stroke-linejoin="round"/><text x="94.50" y="369.50" font-size="8.2" stroke="#231f20" stroke-width="0.15">5</text>
<line x1="110.20" y1="356.80" x2="110.20" y2="360.30" stroke="#111" stroke-width="1.4"/>
<path d="M108.29 369.50V364.06L106.74 365.21" fill="none" stroke="#231f20" stroke-width="0.95" stroke-linejoin="round"/><text x="110.30" y="369.50" font-size="8.2" stroke="#231f20" stroke-width="0.15">9</text>
<polyline points="47.00,313.00 62.80,315.85 78.60,319.13 94.40,320.45 110.20,321.76" fill="none" stroke="#1b5391" stroke-width="1.35" stroke-linejoin="round"/>
<circle cx="47.00" cy="313.00" r="1.5" fill="#1b5391"/>
<circle cx="62.80" cy="315.85" r="1.5" fill="#1b5391"/>
<circle cx="78.60" cy="319.13" r="1.5" fill="#1b5391"/>
<circle cx="94.40" cy="320.45" r="1.5" fill="#1b5391"/>
<circle cx="110.20" cy="321.76" r="1.5" fill="#1b5391"/>
<polyline points="47.00,313.00 62.80,316.07 78.60,317.82 94.40,319.57 110.20,321.32" fill="none" stroke="#3cb648" stroke-width="1.35" stroke-linejoin="round"/>
<circle cx="47.00" cy="313.00" r="1.5" fill="#3cb648"/>
<circle cx="62.80" cy="316.07" r="1.5" fill="#3cb648"/>
<circle cx="78.60" cy="317.82" r="1.5" fill="#3cb648"/>
<circle cx="94.40" cy="319.57" r="1.5" fill="#3cb648"/>
<circle cx="110.20" cy="321.32" r="1.5" fill="#3cb648"/>
<polyline points="47.00,313.00 62.80,316.07 78.60,318.69 94.40,319.57 110.20,320.01" fill="none" stroke="#5b2c83" stroke-width="1.35" stroke-linejoin="round"/>
<circle cx="47.00" cy="313.00" r="1.5" fill="#5b2c83"/>
<circle cx="62.80" cy="316.07" r="1.5" fill="#5b2c83"/>
<circle cx="78.60" cy="318.69" r="1.5" fill="#5b2c83"/>
<circle cx="94.40" cy="319.57" r="1.5" fill="#5b2c83"/>
<path d="M94.40 317.07V322.07M93.20 317.07H95.60M93.20 322.07H95.60" stroke="#5b2c83" stroke-width="0.7" fill="none"/>
<circle cx="110.20" cy="320.01" r="1.5" fill="#5b2c83"/>
<polyline points="47.00,313.00 62.80,316.94 78.60,320.01 94.40,321.32 110.20,323.07" fill="none" stroke="#d3143e" stroke-width="1.35" stroke-linejoin="round"/>
<circle cx="47.00" cy="313.00" r="1.5" fill="#d3143e"/>
<circle cx="62.80" cy="316.94" r="1.5" fill="#d3143e"/>
<circle cx="78.60" cy="320.01" r="1.5" fill="#d3143e"/>
<path d="M78.60 318.01V322.01M77.40 318.01H79.80M77.40 322.01H79.80" stroke="#d3143e" stroke-width="0.7" fill="none"/>
<circle cx="94.40" cy="321.32" r="1.5" fill="#d3143e"/>
<circle cx="110.20" cy="323.07" r="1.5" fill="#d3143e"/>
<text x="63.30" y="302.30" font-size="8.4" stroke="#231f20" stroke-width="0.15" textLength="33.70" lengthAdjust="spacingAndGlyphs">sgAAVS1</text>
<path d="M135.40 308.20V356.80H202.00" fill="none" stroke="#111" stroke-width="1.4"/>
<line x1="132.20" y1="356.80" x2="135.40" y2="356.80" stroke="#111" stroke-width="1.4"/>
<text x="118.50" y="360.10" font-size="8.2" stroke="#231f20" stroke-width="0.15">0</text><text x="123.06" y="360.10" font-size="8.2" stroke="#231f20" stroke-width="0.15">.</text><text x="125.34" y="360.10" font-size="8.2" stroke="#231f20" stroke-width="0.15">0</text>
<line x1="132.20" y1="334.90" x2="135.40" y2="334.90" stroke="#111" stroke-width="1.4"/>
<text x="118.50" y="338.20" font-size="8.2" stroke="#231f20" stroke-width="0.15">0</text><text x="123.06" y="338.20" font-size="8.2" stroke="#231f20" stroke-width="0.15">.</text><text x="125.34" y="338.20" font-size="8.2" stroke="#231f20" stroke-width="0.15">5</text>
<line x1="132.20" y1="313.00" x2="135.40" y2="313.00" stroke="#111" stroke-width="1.4"/>
<path d="M121.06 316.30V310.86L119.51 312.01" fill="none" stroke="#231f20" stroke-width="0.95" stroke-linejoin="round"/><text x="123.06" y="316.30" font-size="8.2" stroke="#231f20" stroke-width="0.15">.</text><text x="125.34" y="316.30" font-size="8.2" stroke="#231f20" stroke-width="0.15">0</text>
<line x1="135.40" y1="356.80" x2="135.40" y2="360.30" stroke="#111" stroke-width="1.4"/>
<text x="133.22" y="369.50" font-size="8.2" stroke="#231f20" stroke-width="0.15">3</text>
<line x1="151.20" y1="356.80" x2="151.20" y2="360.30" stroke="#111" stroke-width="1.4"/>
<text x="149.02" y="369.50" font-size="8.2" stroke="#231f20" stroke-width="0.15">7</text>
<line x1="167.00" y1="356.80" x2="167.00" y2="360.30" stroke="#111" stroke-width="1.4"/>
<path d="M165.09 369.50V364.06L163.54 365.21" fill="none" stroke="#231f20" stroke-width="0.95" stroke-linejoin="round"/><path d="M169.65 369.50V364.06L168.10 365.21" fill="none" stroke="#231f20" stroke-width="0.95" stroke-linejoin="round"/>
<line x1="182.80" y1="356.80" x2="182.80" y2="360.30" stroke="#111" stroke-width="1.4"/>
<path d="M180.89 369.50V364.06L179.34 365.21" fill="none" stroke="#231f20" stroke-width="0.95" stroke-linejoin="round"/><text x="182.90" y="369.50" font-size="8.2" stroke="#231f20" stroke-width="0.15">5</text>
<line x1="198.60" y1="356.80" x2="198.60" y2="360.30" stroke="#111" stroke-width="1.4"/>
<path d="M196.69 369.50V364.06L195.14 365.21" fill="none" stroke="#231f20" stroke-width="0.95" stroke-linejoin="round"/><text x="198.70" y="369.50" font-size="8.2" stroke="#231f20" stroke-width="0.15">9</text>
<polyline points="135.40,313.00 151.20,321.32 167.00,329.21 182.80,332.27 198.60,338.40" fill="none" stroke="#1b5391" stroke-width="1.35" stroke-linejoin="round"/>
<circle cx="135.40" cy="313.00" r="1.5" fill="#1b5391"/>
<circle cx="151.20" cy="321.32" r="1.5" fill="#1b5391"/>
<path d="M151.20 319.32V323.32M150.00 319.32H152.40M150.00 323.32H152.40" stroke="#1b5391" stroke-width="0.7" fill="none"/>
<circle cx="167.00" cy="329.21" r="1.5" fill="#1b5391"/>
<path d="M167.00 327.21V331.21M165.80 327.21H168.20M165.80 331.21H168.20" stroke="#1b5391" stroke-width="0.7" fill="none"/>
<circle cx="182.80" cy="332.27" r="1.5" fill="#1b5391"/>
<path d="M182.80 328.27V336.27M181.60 328.27H184.00M181.60 336.27H184.00" stroke="#1b5391" stroke-width="0.7" fill="none"/>
<circle cx="198.60" cy="338.40" r="1.5" fill="#1b5391"/>
<path d="M198.60 336.40V340.40M197.40 336.40H199.80M197.40 340.40H199.80" stroke="#1b5391" stroke-width="0.7" fill="none"/>
<polyline points="135.40,313.00 151.20,323.51 167.00,339.72 182.80,347.60 198.60,351.98" fill="none" stroke="#3cb648" stroke-width="1.35" stroke-linejoin="round"/>
<circle cx="135.40" cy="313.00" r="1.5" fill="#3cb648"/>
<circle cx="151.20" cy="323.51" r="1.5" fill="#3cb648"/>
<circle cx="167.00" cy="339.72" r="1.5" fill="#3cb648"/>
<circle cx="182.80" cy="347.60" r="1.5" fill="#3cb648"/>
<circle cx="198.60" cy="351.98" r="1.5" fill="#3cb648"/>
<polyline points="135.40,313.00 151.20,327.02 167.00,343.22 182.80,351.11 198.60,354.17" fill="none" stroke="#5b2c83" stroke-width="1.35" stroke-linejoin="round"/>
<circle cx="135.40" cy="313.00" r="1.5" fill="#5b2c83"/>
<circle cx="151.20" cy="327.02" r="1.5" fill="#5b2c83"/>
<path d="M151.20 325.02V329.02M150.00 325.02H152.40M150.00 329.02H152.40" stroke="#5b2c83" stroke-width="0.7" fill="none"/>
<circle cx="167.00" cy="343.22" r="1.5" fill="#5b2c83"/>
<circle cx="182.80" cy="351.11" r="1.5" fill="#5b2c83"/>
<circle cx="198.60" cy="354.17" r="1.5" fill="#5b2c83"/>
<polyline points="135.40,313.00 151.20,334.90 167.00,348.04 182.80,352.86 198.60,355.05" fill="none" stroke="#d3143e" stroke-width="1.35" stroke-linejoin="round"/>
<circle cx="135.40" cy="313.00" r="1.5" fill="#d3143e"/>
<circle cx="151.20" cy="334.90" r="1.5" fill="#d3143e"/>
<path d="M151.20 332.90V336.90M150.00 332.90H152.40M150.00 336.90H152.40" stroke="#d3143e" stroke-width="0.7" fill="none"/>
<circle cx="167.00" cy="348.04" r="1.5" fill="#d3143e"/>
<circle cx="182.80" cy="352.86" r="1.5" fill="#d3143e"/>
<circle cx="198.60" cy="355.05" r="1.5" fill="#d3143e"/>
<text x="150.00" y="302.30" font-size="8.4" stroke="#231f20" stroke-width="0.15" textLength="38.30" lengthAdjust="spacingAndGlyphs">sgJUNB_1</text>
<path d="M224.10 308.20V356.80H290.70" fill="none" stroke="#111" stroke-width="1.4"/>
<line x1="220.90" y1="356.80" x2="224.10" y2="356.80" stroke="#111" stroke-width="1.4"/>
<text x="207.20" y="360.10" font-size="8.2" stroke="#231f20" stroke-width="0.15">0</text><text x="211.76" y="360.10" font-size="8.2" stroke="#231f20" stroke-width="0.15">.</text><text x="214.04" y="360.10" font-size="8.2" stroke="#231f20" stroke-width="0.15">0</text>
<line x1="220.90" y1="334.90" x2="224.10" y2="334.90" stroke="#111" stroke-width="1.4"/>
<text x="207.20" y="338.20" font-size="8.2" stroke="#231f20" stroke-width="0.15">0</text><text x="211.76" y="338.20" font-size="8.2" stroke="#231f20" stroke-width="0.15">.</text><text x="214.04" y="338.20" font-size="8.2" stroke="#231f20" stroke-width="0.15">5</text>
<line x1="220.90" y1="313.00" x2="224.10" y2="313.00" stroke="#111" stroke-width="1.4"/>
<path d="M209.76 316.30V310.86L208.21 312.01" fill="none" stroke="#231f20" stroke-width="0.95" stroke-linejoin="round"/><text x="211.76" y="316.30" font-size="8.2" stroke="#231f20" stroke-width="0.15">.</text><text x="214.04" y="316.30" font-size="8.2" stroke="#231f20" stroke-width="0.15">0</text>
<line x1="224.10" y1="356.80" x2="224.10" y2="360.30" stroke="#111" stroke-width="1.4"/>
<text x="221.92" y="369.50" font-size="8.2" stroke="#231f20" stroke-width="0.15">3</text>
<line x1="239.90" y1="356.80" x2="239.90" y2="360.30" stroke="#111" stroke-width="1.4"/>
<text x="237.72" y="369.50" font-size="8.2" stroke="#231f20" stroke-width="0.15">7</text>
<line x1="255.70" y1="356.80" x2="255.70" y2="360.30" stroke="#111" stroke-width="1.4"/>
<path d="M253.79 369.50V364.06L252.24 365.21" fill="none" stroke="#231f20" stroke-width="0.95" stroke-linejoin="round"/><path d="M258.35 369.50V364.06L256.80 365.21" fill="none" stroke="#231f20" stroke-width="0.95" stroke-linejoin="round"/>
<line x1="271.50" y1="356.80" x2="271.50" y2="360.30" stroke="#111" stroke-width="1.4"/>
<path d="M269.59 369.50V364.06L268.04 365.21" fill="none" stroke="#231f20" stroke-width="0.95" stroke-linejoin="round"/><text x="271.60" y="369.50" font-size="8.2" stroke="#231f20" stroke-width="0.15">5</text>
<line x1="287.30" y1="356.80" x2="287.30" y2="360.30" stroke="#111" stroke-width="1.4"/>
<path d="M285.39 369.50V364.06L283.84 365.21" fill="none" stroke="#231f20" stroke-width="0.95" stroke-linejoin="round"/><text x="287.40" y="369.50" font-size="8.2" stroke="#231f20" stroke-width="0.15">9</text>
<polyline points="224.10,313.00 239.90,316.50 255.70,321.32 271.50,325.70 287.30,329.64" fill="none" stroke="#1b5391" stroke-width="1.35" stroke-linejoin="round"/>
<circle cx="224.10" cy="313.00" r="1.5" fill="#1b5391"/>
<circle cx="239.90" cy="316.50" r="1.5" fill="#1b5391"/>
<circle cx="255.70" cy="321.32" r="1.5" fill="#1b5391"/>
<path d="M255.70 317.32V325.32M254.50 317.32H256.90M254.50 325.32H256.90" stroke="#1b5391" stroke-width="0.7" fill="none"/>
<circle cx="271.50" cy="325.70" r="1.5" fill="#1b5391"/>
<path d="M271.50 321.70V329.70M270.30 321.70H272.70M270.30 329.70H272.70" stroke="#1b5391" stroke-width="0.7" fill="none"/>
<circle cx="287.30" cy="329.64" r="1.5" fill="#1b5391"/>
<path d="M287.30 324.64V334.64M286.10 324.64H288.50M286.10 334.64H288.50" stroke="#1b5391" stroke-width="0.7" fill="none"/>
<polyline points="224.10,313.00 239.90,320.88 255.70,337.09 271.50,347.60 287.30,351.98" fill="none" stroke="#3cb648" stroke-width="1.35" stroke-linejoin="round"/>
<circle cx="224.10" cy="313.00" r="1.5" fill="#3cb648"/>
<circle cx="239.90" cy="320.88" r="1.5" fill="#3cb648"/>
<circle cx="255.70" cy="337.09" r="1.5" fill="#3cb648"/>
<circle cx="271.50" cy="347.60" r="1.5" fill="#3cb648"/>
<circle cx="287.30" cy="351.98" r="1.5" fill="#3cb648"/>
<polyline points="224.10,313.00 239.90,322.64 255.70,341.47 271.50,351.54 287.30,355.05" fill="none" stroke="#5b2c83" stroke-width="1.35" stroke-linejoin="round"/>
<circle cx="224.10" cy="313.00" r="1.5" fill="#5b2c83"/>
<circle cx="239.90" cy="322.64" r="1.5" fill="#5b2c83"/>
<circle cx="255.70" cy="341.47" r="1.5" fill="#5b2c83"/>
<path d="M255.70 338.97V343.97M254.50 338.97H256.90M254.50 343.97H256.90" stroke="#5b2c83" stroke-width="0.7" fill="none"/>
<circle cx="271.50" cy="351.54" r="1.5" fill="#5b2c83"/>
<circle cx="287.30" cy="355.05" r="1.5" fill="#5b2c83"/>
<polyline points="224.10,313.00 239.90,333.59 255.70,349.79 271.50,354.17 287.30,355.49" fill="none" stroke="#d3143e" stroke-width="1.35" stroke-linejoin="round"/>
<circle cx="224.10" cy="313.00" r="1.5" fill="#d3143e"/>
<circle cx="239.90" cy="333.59" r="1.5" fill="#d3143e"/>
<circle cx="255.70" cy="349.79" r="1.5" fill="#d3143e"/>
<circle cx="271.50" cy="354.17" r="1.5" fill="#d3143e"/>
<circle cx="287.30" cy="355.49" r="1.5" fill="#d3143e"/>
<text x="238.30" y="302.30" font-size="8.4" stroke="#231f20" stroke-width="0.15" textLength="38.70" lengthAdjust="spacingAndGlyphs">sgJUNB_2</text>
<path d="M312.40 308.20V356.80H379.00" fill="none" stroke="#111" stroke-width="1.4"/>
<line x1="309.20" y1="356.80" x2="312.40" y2="356.80" stroke="#111" stroke-width="1.4"/>
<text x="295.50" y="360.10" font-size="8.2" stroke="#231f20" stroke-width="0.15">0</text><text x="300.06" y="360.10" font-size="8.2" stroke="#231f20" stroke-width="0.15">.</text><text x="302.34" y="360.10" font-size="8.2" stroke="#231f20" stroke-width="0.15">0</text>
<line x1="309.20" y1="334.90" x2="312.40" y2="334.90" stroke="#111" stroke-width="1.4"/>
<text x="295.50" y="338.20" font-size="8.2" stroke="#231f20" stroke-width="0.15">0</text><text x="300.06" y="338.20" font-size="8.2" stroke="#231f20" stroke-width="0.15">.</text><text x="302.34" y="338.20" font-size="8.2" stroke="#231f20" stroke-width="0.15">5</text>
<line x1="309.20" y1="313.00" x2="312.40" y2="313.00" stroke="#111" stroke-width="1.4"/>
<path d="M298.06 316.30V310.86L296.51 312.01" fill="none" stroke="#231f20" stroke-width="0.95" stroke-linejoin="round"/><text x="300.06" y="316.30" font-size="8.2" stroke="#231f20" stroke-width="0.15">.</text><text x="302.34" y="316.30" font-size="8.2" stroke="#231f20" stroke-width="0.15">0</text>
<line x1="312.40" y1="356.80" x2="312.40" y2="360.30" stroke="#111" stroke-width="1.4"/>
<text x="310.22" y="369.50" font-size="8.2" stroke="#231f20" stroke-width="0.15">3</text>
<line x1="328.20" y1="356.80" x2="328.20" y2="360.30" stroke="#111" stroke-width="1.4"/>
<text x="326.02" y="369.50" font-size="8.2" stroke="#231f20" stroke-width="0.15">7</text>
<line x1="344.00" y1="356.80" x2="344.00" y2="360.30" stroke="#111" stroke-width="1.4"/>
<path d="M342.09 369.50V364.06L340.54 365.21" fill="none" stroke="#231f20" stroke-width="0.95" stroke-linejoin="round"/><path d="M346.65 369.50V364.06L345.10 365.21" fill="none" stroke="#231f20" stroke-width="0.95" stroke-linejoin="round"/>
<line x1="359.80" y1="356.80" x2="359.80" y2="360.30" stroke="#111" stroke-width="1.4"/>
<path d="M357.89 369.50V364.06L356.34 365.21" fill="none" stroke="#231f20" stroke-width="0.95" stroke-linejoin="round"/><text x="359.90" y="369.50" font-size="8.2" stroke="#231f20" stroke-width="0.15">5</text>
<line x1="375.60" y1="356.80" x2="375.60" y2="360.30" stroke="#111" stroke-width="1.4"/>
<path d="M373.69 369.50V364.06L372.14 365.21" fill="none" stroke="#231f20" stroke-width="0.95" stroke-linejoin="round"/><text x="375.70" y="369.50" font-size="8.2" stroke="#231f20" stroke-width="0.15">9</text>
<polyline points="312.40,313.00 328.20,323.07 344.00,332.71 359.80,338.40 375.60,343.66" fill="none" stroke="#3cb648" stroke-width="1.35" stroke-linejoin="round"/>
<circle cx="312.40" cy="313.00" r="1.5" fill="#3cb648"/>
<circle cx="328.20" cy="323.07" r="1.5" fill="#3cb648"/>
<circle cx="344.00" cy="332.71" r="1.5" fill="#3cb648"/>
<circle cx="359.80" cy="338.40" r="1.5" fill="#3cb648"/>
<circle cx="375.60" cy="343.66" r="1.5" fill="#3cb648"/>
<polyline points="312.40,313.00 328.20,321.76 344.00,332.71 359.80,341.03 375.60,345.85" fill="none" stroke="#5b2c83" stroke-width="1.35" stroke-linejoin="round"/>
<circle cx="312.40" cy="313.00" r="1.5" fill="#5b2c83"/>
<circle cx="328.20" cy="321.76" r="1.5" fill="#5b2c83"/>
<circle cx="344.00" cy="332.71" r="1.5" fill="#5b2c83"/>
<circle cx="359.80" cy="341.03" r="1.5" fill="#5b2c83"/>
<circle cx="375.60" cy="345.85" r="1.5" fill="#5b2c83"/>
<polyline points="312.40,313.00 328.20,321.76 344.00,334.90 359.80,343.22 375.60,346.73" fill="none" stroke="#d3143e" stroke-width="1.35" stroke-linejoin="round"/>
<circle cx="312.40" cy="313.00" r="1.5" fill="#d3143e"/>
<circle cx="328.20" cy="321.76" r="1.5" fill="#d3143e"/>
<circle cx="344.00" cy="334.90" r="1.5" fill="#d3143e"/>
<circle cx="359.80" cy="343.22" r="1.5" fill="#d3143e"/>
<circle cx="375.60" cy="346.73" r="1.5" fill="#d3143e"/>
<polyline points="312.40,313.00 328.20,319.57 344.00,331.83 359.80,340.16 375.60,345.41" fill="none" stroke="#1b5391" stroke-width="1.35" stroke-linejoin="round"/>
<circle cx="312.40" cy="313.00" r="1.5" fill="#1b5391"/>
<circle cx="328.20" cy="319.57" r="1.5" fill="#1b5391"/>
<circle cx="344.00" cy="331.83" r="1.5" fill="#1b5391"/>
<circle cx="359.80" cy="340.16" r="1.5" fill="#1b5391"/>
<circle cx="375.60" cy="345.41" r="1.5" fill="#1b5391"/>
<text x="332.50" y="302.30" font-size="8.4" stroke="#231f20" stroke-width="0.15" textLength="27.40" lengthAdjust="spacingAndGlyphs">sgRPL6</text>
<text x="174.20" y="380.80" font-size="9.4" stroke="#231f20" stroke-width="0.15" textLength="62.70" lengthAdjust="spacingAndGlyphs">Days after infection</text>
<text transform="translate(15.10,351.30) rotate(-90)" x="0.00" font-size="9.4" stroke="#231f20" stroke-width="0.15" textLength="41.70" lengthAdjust="spacingAndGlyphs">Cell number</text>
<text transform="translate(26.30,367.00) rotate(-90)" x="0.00" font-size="9.4" stroke="#231f20" stroke-width="0.15" textLength="73.00" lengthAdjust="spacingAndGlyphs">(normalized by day 3)</text>
<text x="437.00" y="286.50" font-size="8.4" stroke="#231f20" stroke-width="0.15" textLength="13.80" lengthAdjust="spacingAndGlyphs">ST1</text>
<text x="484.40" y="286.50" font-size="8.4" stroke="#231f20" stroke-width="0.15" textLength="15.40" lengthAdjust="spacingAndGlyphs">KK1</text>
<line x1="424.80" y1="289.60" x2="463.80" y2="289.60" stroke="#666" stroke-width="1.5"/>
<line x1="472.90" y1="289.60" x2="513.30" y2="289.60" stroke="#666" stroke-width="1.5"/>
<text x="405.80" y="306.70" font-size="8.4" stroke="#231f20" stroke-width="0.15" textLength="8.00" lengthAdjust="spacingAndGlyphs">IP:</text>
<text transform="translate(427.80,315.60) rotate(-90)" x="0.00" font-size="7.9" stroke="#231f20" stroke-width="0.2" textLength="16.70" lengthAdjust="spacingAndGlyphs">Input</text>
<text transform="translate(443.90,315.60) rotate(-90)" x="0.00" font-size="7.9" stroke="#231f20" stroke-width="0.2" textLength="12.10" lengthAdjust="spacingAndGlyphs">IgG</text>
<text transform="translate(451.90,315.60) rotate(-90)" x="0.00" font-size="7.9" stroke="#231f20" stroke-width="0.2" textLength="21.80" lengthAdjust="spacingAndGlyphs">BATF3</text>
<text transform="translate(460.20,315.60) rotate(-90)" x="0.00" font-size="7.9" stroke="#231f20" stroke-width="0.2" textLength="18.30" lengthAdjust="spacingAndGlyphs">JUNB</text>
<text transform="translate(477.00,315.60) rotate(-90)" x="0.00" font-size="7.9" stroke="#231f20" stroke-width="0.2" textLength="16.70" lengthAdjust="spacingAndGlyphs">Input</text>
<text transform="translate(493.10,315.60) rotate(-90)" x="0.00" font-size="7.9" stroke="#231f20" stroke-width="0.2" textLength="12.10" lengthAdjust="spacingAndGlyphs">IgG</text>
<text transform="translate(501.10,315.60) rotate(-90)" x="0.00" font-size="7.9" stroke="#231f20" stroke-width="0.2" textLength="21.80" lengthAdjust="spacingAndGlyphs">BATF3</text>
<text transform="translate(509.40,315.60) rotate(-90)" x="0.00" font-size="7.9" stroke="#231f20" stroke-width="0.2" textLength="18.30" lengthAdjust="spacingAndGlyphs">JUNB</text>
<text x="400.40" y="327.00" font-size="8.4" stroke="#231f20" stroke-width="0.15" textLength="13.80" lengthAdjust="spacingAndGlyphs">HBZ</text>
<text x="391.70" y="336.50" font-size="8.4" stroke="#231f20" stroke-width="0.15" textLength="22.50" lengthAdjust="spacingAndGlyphs">Longer</text>
<text x="384.30" y="342.90" font-size="8.6" stroke="#231f20" stroke-width="0.15" textLength="29.90" lengthAdjust="spacingAndGlyphs">exposure</text>
<text x="392.20" y="352.30" font-size="8.4" stroke="#231f20" stroke-width="0.15" textLength="22.00" lengthAdjust="spacingAndGlyphs">BATF3</text>
<text x="395.10" y="365.00" font-size="8.4" stroke="#231f20" stroke-width="0.15" textLength="19.10" lengthAdjust="spacingAndGlyphs">JUNB</text>
<text x="400.00" y="377.80" font-size="8.4" stroke="#231f20" stroke-width="0.15" textLength="14.20" lengthAdjust="spacingAndGlyphs">IRF4</text>
<line x1="416.90" y1="319.30" x2="416.90" y2="342.30" stroke="#333" stroke-width="1.1"/>
<rect x="420.00" y="318.80" width="92.60" height="10.60" fill="#f5f5f5" stroke="#111" stroke-width="1.15"/>
<rect x="420.00" y="331.60" width="92.60" height="11.00" fill="#f5f5f5" stroke="#111" stroke-width="1.15"/>
<rect x="420.00" y="344.30" width="92.60" height="10.80" fill="#f5f5f5" stroke="#111" stroke-width="1.15"/>
<rect x="420.00" y="357.10" width="92.60" height="10.20" fill="#f5f5f5" stroke="#111" stroke-width="1.15"/>
<rect x="420.00" y="369.90" width="92.60" height="10.60" fill="#f5f5f5" stroke="#111" stroke-width="1.15"/>
<g fill="#777" opacity="0.3"><rect x="421.80" y="323.90" width="7.40" height="3.00" rx="1.50" opacity="0.25"/><rect x="422.30" y="324.40" width="6.40" height="2.00" rx="1.00" opacity="0.45"/><rect x="422.80" y="324.90" width="5.40" height="1.00" rx="0.50" opacity="1.0"/></g>
<g fill="#000" opacity="0.8"><rect x="453.50" y="322.30" width="8.60" height="4.00" rx="2.00" opacity="0.25"/><rect x="454.00" y="322.80" width="7.60" height="3.00" rx="1.50" opacity="0.45"/><rect x="454.50" y="323.30" width="6.60" height="2.00" rx="1.00" opacity="1.0"/></g>
<g fill="#000" opacity="0.5"><rect x="470.70" y="322.40" width="8.00" height="3.80" rx="1.90" opacity="0.25"/><rect x="471.20" y="322.90" width="7.00" height="2.80" rx="1.40" opacity="0.45"/><rect x="471.70" y="323.40" width="6.00" height="1.80" rx="0.90" opacity="1.0"/></g>
<g fill="#000" opacity="1"><rect x="502.40" y="323.90" width="9.20" height="4.20" rx="2.10" opacity="0.25"/><rect x="502.90" y="324.40" width="8.20" height="3.20" rx="1.60" opacity="0.45"/><rect x="503.40" y="324.90" width="7.20" height="2.20" rx="1.10" opacity="1.0"/></g>
<rect x="438.90" y="319.80" width="5.60" height="8.00" rx="1.50" fill="#ccc" opacity="0.4" filter="url(#b2)"/>
<g clip-path="url(#clipL)">
<rect x="420.00" y="331.60" width="92.60" height="11.00" fill="#d6d6d6"/>
<g fill="#222" opacity="0.85"><rect x="421.80" y="333.70" width="7.40" height="3.80" rx="1.90" opacity="0.25"/><rect x="422.30" y="334.20" width="6.40" height="2.80" rx="1.40" opacity="0.45"/><rect x="422.80" y="334.70" width="5.40" height="1.80" rx="0.90" opacity="1.0"/></g>
<g fill="#8a8a8a" opacity="0.9"><rect x="437.70" y="331.70" width="8.00" height="11.00" rx="1.50" opacity="0.25"/><rect x="438.20" y="332.20" width="7.00" height="10.00" rx="1.00" opacity="0.45"/><rect x="438.70" y="332.70" width="6.00" height="9.00" rx="0.50" opacity="1.0"/></g>
<g fill="#000" opacity="0.6"><rect x="437.80" y="331.60" width="7.80" height="3.20" rx="1.60" opacity="0.25"/><rect x="438.30" y="332.10" width="6.80" height="2.20" rx="1.10" opacity="0.45"/><rect x="438.80" y="332.60" width="5.80" height="1.20" rx="0.60" opacity="1.0"/></g>
<g fill="#000" opacity="0.95"><rect x="437.70" y="338.90" width="8.00" height="4.20" rx="2.10" opacity="0.25"/><rect x="438.20" y="339.40" width="7.00" height="3.20" rx="1.60" opacity="0.45"/><rect x="438.70" y="339.90" width="6.00" height="2.20" rx="1.10" opacity="1.0"/></g>
<g fill="#a0a0a0" opacity="0.8"><rect x="445.10" y="331.70" width="9.00" height="11.00" rx="1.50" opacity="0.25"/><rect x="445.60" y="332.20" width="8.00" height="10.00" rx="1.00" opacity="0.45"/><rect x="446.10" y="332.70" width="7.00" height="9.00" rx="0.50" opacity="1.0"/></g>
<g fill="#000" opacity="0.9"><rect x="445.10" y="339.00" width="9.00" height="4.00" rx="2.00" opacity="0.25"/><rect x="445.60" y="339.50" width="8.00" height="3.00" rx="1.50" opacity="0.45"/><rect x="446.10" y="340.00" width="7.00" height="2.00" rx="1.00" opacity="1.0"/></g>
<g fill="#777" opacity="0.9"><rect x="453.70" y="331.70" width="8.60" height="11.00" rx="1.50" opacity="0.25"/><rect x="454.20" y="332.20" width="7.60" height="10.00" rx="1.00" opacity="0.45"/><rect x="454.70" y="332.70" width="6.60" height="9.00" rx="0.50" opacity="1.0"/></g>
<g fill="#000" opacity="1"><rect x="453.60" y="331.70" width="8.80" height="6.60" rx="2.50" opacity="0.25"/><rect x="454.10" y="332.20" width="7.80" height="5.60" rx="2.00" opacity="0.45"/><rect x="454.60" y="332.70" width="6.80" height="4.60" rx="1.50" opacity="1.0"/></g>
<g fill="#000" opacity="0.95"><rect x="453.70" y="339.00" width="8.60" height="4.00" rx="2.00" opacity="0.25"/><rect x="454.20" y="339.50" width="7.60" height="3.00" rx="1.50" opacity="0.45"/><rect x="454.70" y="340.00" width="6.60" height="2.00" rx="1.00" opacity="1.0"/></g>
<g fill="#000" opacity="1"><rect x="471.20" y="332.00" width="9.00" height="6.00" rx="2.50" opacity="0.25"/><rect x="471.70" y="332.50" width="8.00" height="5.00" rx="2.00" opacity="0.45"/><rect x="472.20" y="333.00" width="7.00" height="4.00" rx="1.50" opacity="1.0"/></g>
<rect x="472.90" y="336.80" width="5.60" height="4.00" rx="1.50" fill="#777" opacity="0.8" filter="url(#b2)"/>
<g fill="#999" opacity="0.8"><rect x="488.70" y="331.70" width="6.60" height="11.00" rx="1.50" opacity="0.25"/><rect x="489.20" y="332.20" width="5.60" height="10.00" rx="1.00" opacity="0.45"/><rect x="489.70" y="332.70" width="4.60" height="9.00" rx="0.50" opacity="1.0"/></g>
<g fill="#aaa" opacity="0.7"><rect x="494.80" y="331.70" width="9.80" height="11.00" rx="1.50" opacity="0.25"/><rect x="495.30" y="332.20" width="8.80" height="10.00" rx="1.00" opacity="0.45"/><rect x="495.80" y="332.70" width="7.80" height="9.00" rx="0.50" opacity="1.0"/></g>
<rect x="498.00" y="338.20" width="6.00" height="3.60" rx="1.50" fill="#555" opacity="0.6" filter="url(#b2)"/>
<g fill="#000" opacity="1"><rect x="503.40" y="333.80" width="9.80" height="9.20" rx="2.50" opacity="0.25"/><rect x="503.90" y="334.30" width="8.80" height="8.20" rx="2.00" opacity="0.45"/><rect x="504.40" y="334.80" width="7.80" height="7.20" rx="1.50" opacity="1.0"/></g>
<g fill="#333" opacity="0.6"><rect x="504.10" y="333.50" width="6.40" height="3.40" rx="1.70" opacity="0.25"/><rect x="504.60" y="334.00" width="5.40" height="2.40" rx="1.20" opacity="0.45"/><rect x="505.10" y="334.50" width="4.40" height="1.40" rx="0.70" opacity="1.0"/></g>
</g>
<g fill="#000" opacity="0.6"><rect x="421.20" y="348.10" width="8.60" height="4.20" rx="2.10" opacity="0.25"/><rect x="421.70" y="348.60" width="7.60" height="3.20" rx="1.60" opacity="0.45"/><rect x="422.20" y="349.10" width="6.60" height="2.20" rx="1.10" opacity="1.0"/></g>
<g fill="#000" opacity="0.95"><rect x="445.00" y="347.80" width="8.60" height="4.80" rx="2.40" opacity="0.25"/><rect x="445.50" y="348.30" width="7.60" height="3.80" rx="1.90" opacity="0.45"/><rect x="446.00" y="348.80" width="6.60" height="2.80" rx="1.40" opacity="1.0"/></g>
<g fill="#000" opacity="0.85"><rect x="453.50" y="347.80" width="8.60" height="4.80" rx="2.40" opacity="0.25"/><rect x="454.00" y="348.30" width="7.60" height="3.80" rx="1.90" opacity="0.45"/><rect x="454.50" y="348.80" width="6.60" height="2.80" rx="1.40" opacity="1.0"/></g>
<g fill="#000" opacity="0.6"><rect x="470.40" y="348.10" width="8.60" height="4.20" rx="2.10" opacity="0.25"/><rect x="470.90" y="348.60" width="7.60" height="3.20" rx="1.60" opacity="0.45"/><rect x="471.40" y="349.10" width="6.60" height="2.20" rx="1.10" opacity="1.0"/></g>
<g fill="#000" opacity="0.95"><rect x="494.20" y="347.80" width="8.60" height="4.80" rx="2.40" opacity="0.25"/><rect x="494.70" y="348.30" width="7.60" height="3.80" rx="1.90" opacity="0.45"/><rect x="495.20" y="348.80" width="6.60" height="2.80" rx="1.40" opacity="1.0"/></g>
<g fill="#000" opacity="0.75"><rect x="502.70" y="348.00" width="8.60" height="4.40" rx="2.20" opacity="0.25"/><rect x="503.20" y="348.50" width="7.60" height="3.40" rx="1.70" opacity="0.45"/><rect x="503.70" y="349.00" width="6.60" height="2.40" rx="1.20" opacity="1.0"/></g>
<g fill="#000" opacity="0.12"><rect x="421.00" y="360.30" width="9.00" height="3.40" rx="1.70" opacity="0.25"/><rect x="421.50" y="360.80" width="8.00" height="2.40" rx="1.20" opacity="0.45"/><rect x="422.00" y="361.30" width="7.00" height="1.40" rx="0.70" opacity="1.0"/></g>
<g fill="#000" opacity="0.95"><rect x="444.80" y="359.60" width="9.00" height="4.40" rx="2.20" opacity="0.25"/><rect x="445.30" y="360.10" width="8.00" height="3.40" rx="1.70" opacity="0.45"/><rect x="445.80" y="360.60" width="7.00" height="2.40" rx="1.20" opacity="1.0"/></g>
<g fill="#000" opacity="1"><rect x="453.30" y="358.60" width="9.00" height="6.40" rx="2.50" opacity="0.25"/><rect x="453.80" y="359.10" width="8.00" height="5.40" rx="2.00" opacity="0.45"/><rect x="454.30" y="359.60" width="7.00" height="4.40" rx="1.50" opacity="1.0"/></g>
<g fill="#000" opacity="0.08"><rect x="470.20" y="360.30" width="9.00" height="3.40" rx="1.70" opacity="0.25"/><rect x="470.70" y="360.80" width="8.00" height="2.40" rx="1.20" opacity="0.45"/><rect x="471.20" y="361.30" width="7.00" height="1.40" rx="0.70" opacity="1.0"/></g>
<g fill="#000" opacity="0.5"><rect x="494.00" y="359.30" width="9.00" height="5.00" rx="2.50" opacity="0.25"/><rect x="494.50" y="359.80" width="8.00" height="4.00" rx="2.00" opacity="0.45"/><rect x="495.00" y="360.30" width="7.00" height="3.00" rx="1.50" opacity="1.0"/></g>
<g fill="#000" opacity="1"><rect x="502.50" y="359.00" width="9.00" height="6.40" rx="2.50" opacity="0.25"/><rect x="503.00" y="359.50" width="8.00" height="5.40" rx="2.00" opacity="0.45"/><rect x="503.50" y="360.00" width="7.00" height="4.40" rx="1.50" opacity="1.0"/></g>
<g fill="#000" opacity="1"><rect x="420.20" y="373.80" width="9.00" height="5.60" rx="2.50" opacity="0.25"/><rect x="420.70" y="374.30" width="8.00" height="4.60" rx="2.00" opacity="0.45"/><rect x="421.20" y="374.80" width="7.00" height="3.60" rx="1.50" opacity="1.0"/></g>
<g fill="#888" opacity="0.2"><rect x="437.80" y="373.30" width="7.40" height="3.40" rx="1.70" opacity="0.25"/><rect x="438.30" y="373.80" width="6.40" height="2.40" rx="1.20" opacity="0.45"/><rect x="438.80" y="374.30" width="5.40" height="1.40" rx="0.70" opacity="1.0"/></g>
<g fill="#000" opacity="0.75"><rect x="445.00" y="371.40" width="8.60" height="4.80" rx="2.40" opacity="0.25"/><rect x="445.50" y="371.90" width="7.60" height="3.80" rx="1.90" opacity="0.45"/><rect x="446.00" y="372.40" width="6.60" height="2.80" rx="1.40" opacity="1.0"/></g>
<g fill="#000" opacity="0.12"><rect x="454.10" y="374.30" width="7.40" height="3.40" rx="1.70" opacity="0.25"/><rect x="454.60" y="374.80" width="6.40" height="2.40" rx="1.20" opacity="0.45"/><rect x="455.10" y="375.30" width="5.40" height="1.40" rx="0.70" opacity="1.0"/></g>
<g fill="#000" opacity="1"><rect x="470.20" y="372.60" width="9.00" height="6.00" rx="2.50" opacity="0.25"/><rect x="470.70" y="373.10" width="8.00" height="5.00" rx="2.00" opacity="0.45"/><rect x="471.20" y="373.60" width="7.00" height="4.00" rx="1.50" opacity="1.0"/></g>
<g fill="#888" opacity="0.15"><rect x="487.00" y="373.30" width="7.40" height="3.40" rx="1.70" opacity="0.25"/><rect x="487.50" y="373.80" width="6.40" height="2.40" rx="1.20" opacity="0.45"/><rect x="488.00" y="374.30" width="5.40" height="1.40" rx="0.70" opacity="1.0"/></g>
<g fill="#000" opacity="0.85"><rect x="494.20" y="371.20" width="8.60" height="4.80" rx="2.40" opacity="0.25"/><rect x="494.70" y="371.70" width="7.60" height="3.80" rx="1.90" opacity="0.45"/><rect x="495.20" y="372.20" width="6.60" height="2.80" rx="1.40" opacity="1.0"/></g>
<g fill="#000" opacity="0.1"><rect x="503.30" y="374.30" width="7.40" height="3.40" rx="1.70" opacity="0.25"/><rect x="503.80" y="374.80" width="6.40" height="2.40" rx="1.20" opacity="0.45"/><rect x="504.30" y="375.30" width="5.40" height="1.40" rx="0.70" opacity="1.0"/></g>
<rect x="0.50" y="0.50" width="519.00" height="387.00" fill="none" stroke="#000" stroke-width="1"/>
</svg>
</body></html>
